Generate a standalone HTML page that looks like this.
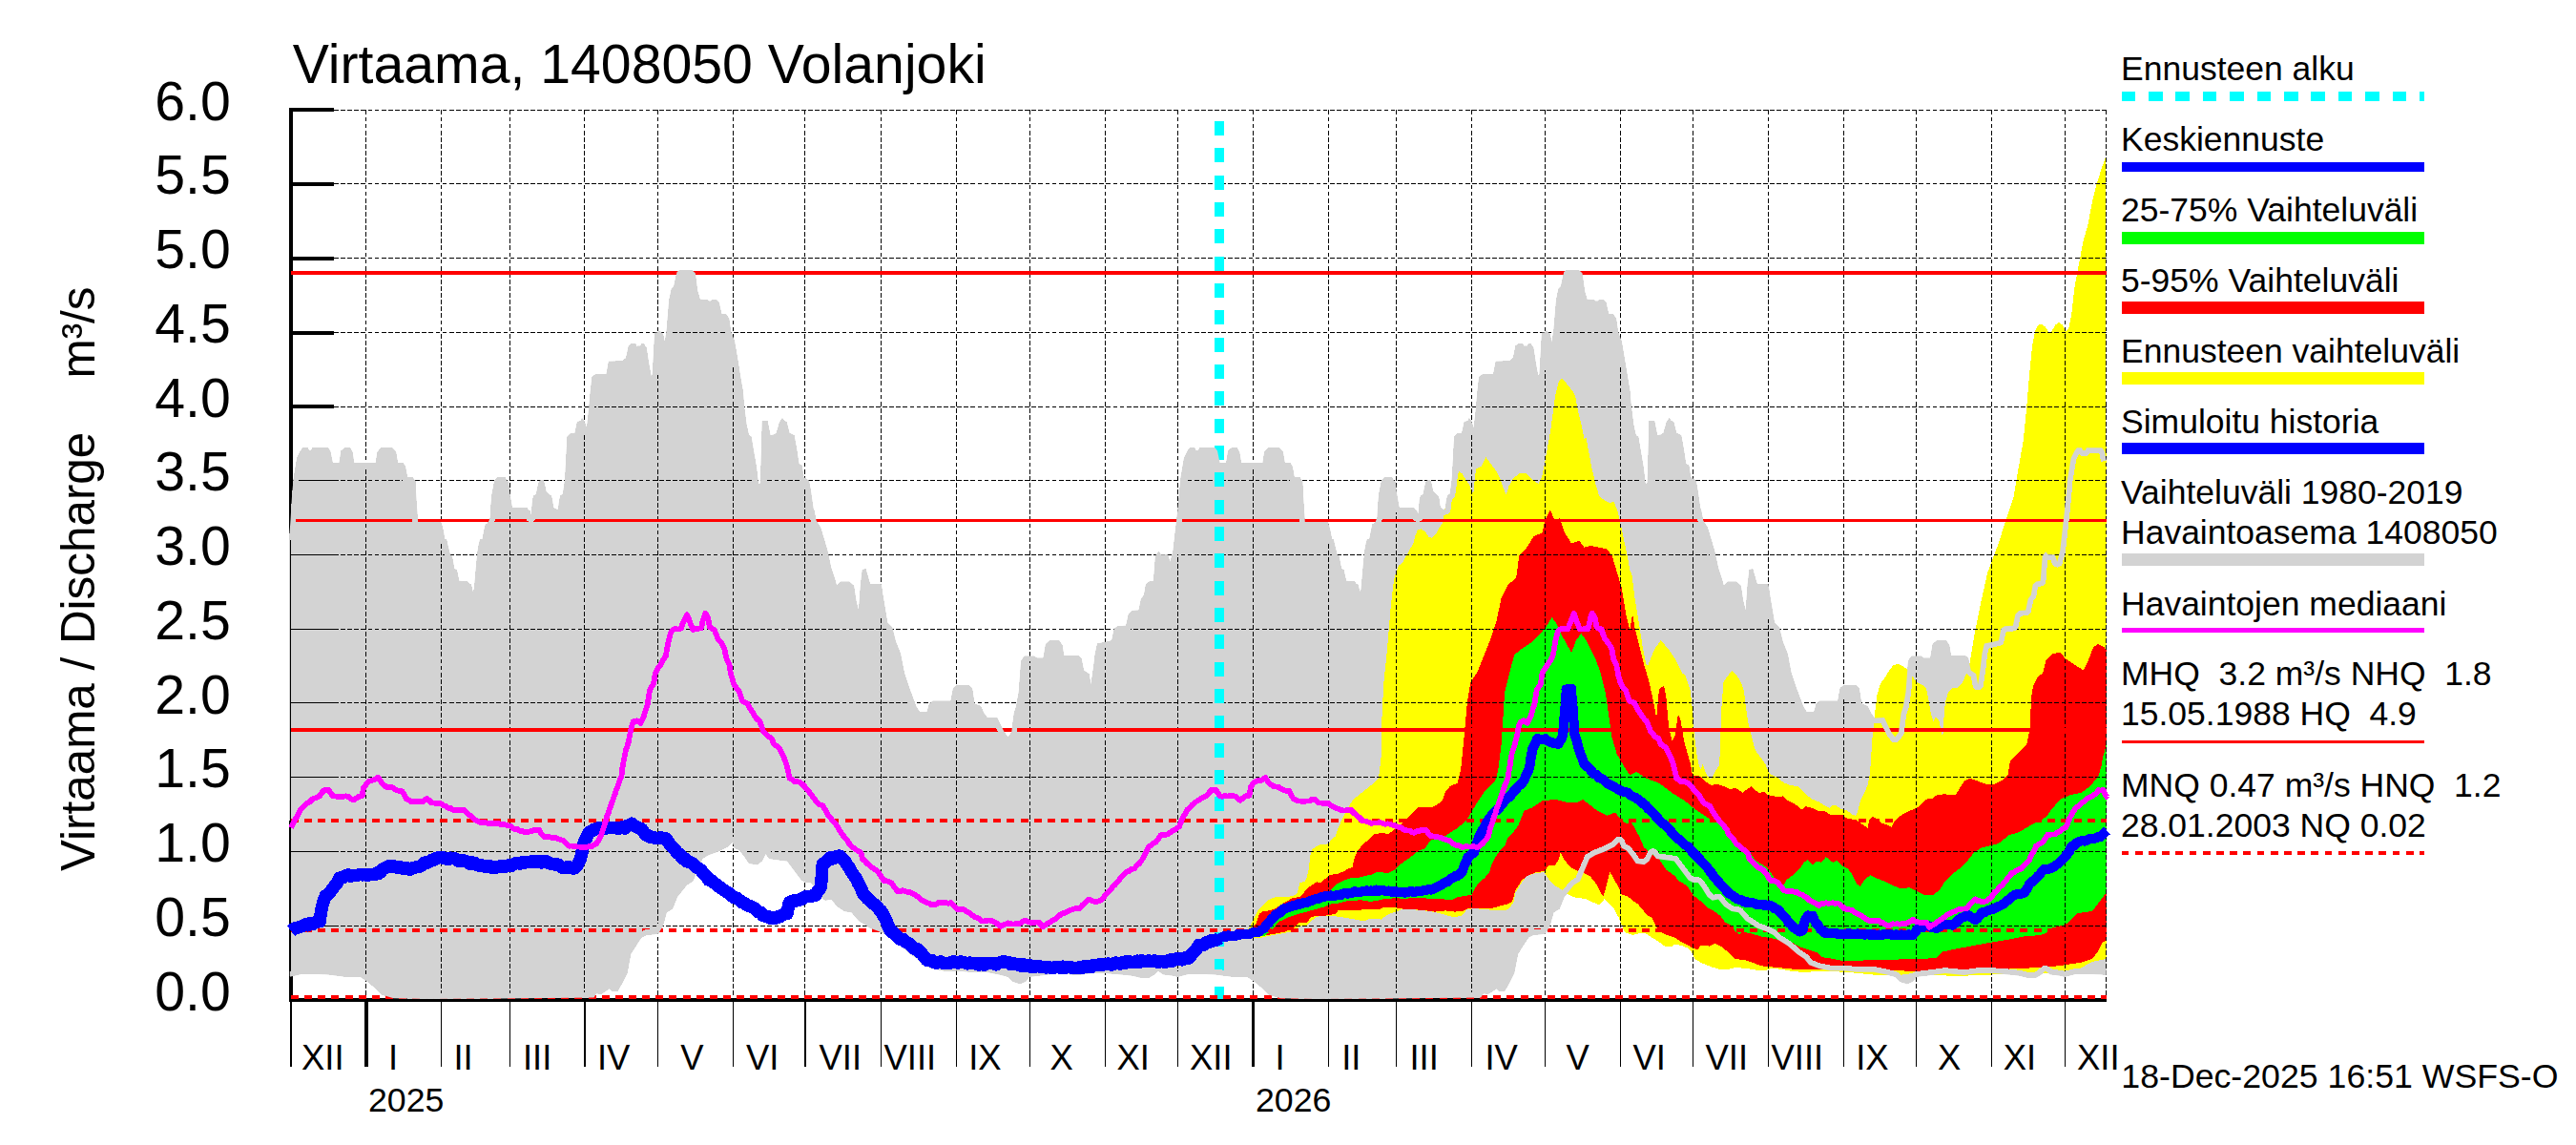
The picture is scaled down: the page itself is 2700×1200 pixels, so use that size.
<!DOCTYPE html><html><head><meta charset="utf-8"><title>Virtaama, 1408050 Volanjoki</title>
<style>html,body{margin:0;padding:0;background:#fff}svg{display:block}text{font-family:"Liberation Sans",sans-serif;fill:#000}</style></head><body>
<svg width="2700" height="1200" viewBox="0 0 2700 1200" shape-rendering="crispEdges">
<rect width="2700" height="1200" fill="#fff"/>
<defs><clipPath id="plot"><rect x="302" y="114.0" width="1906.5" height="935.5"/></clipPath>
<clipPath id="grayclip"><path d="M303.0 566.0 L304.5 545.0 L306.0 520.0 L307.5 502.5 L311.2 480.0 L315.0 472.5 L317.5 469.2 L322.5 469.2 L323.8 472.0 L326.2 472.0 L327.5 469.2 L343.8 469.2 L346.2 472.5 L348.8 485.0 L355.5 485.0 L357.5 472.5 L361.2 469.2 L367.0 469.2 L369.5 473.8 L371.2 485.0 L393.8 485.0 L395.5 473.8 L399.5 469.2 L411.2 469.2 L415.0 473.2 L417.0 485.0 L422.5 485.0 L425.0 488.8 L427.0 500.0 L432.5 500.0 L435.0 503.8 L435.6 503.8 L436.2 520.0 L437.5 538.8 L438.1 546.9 L462.5 547.5 L465.0 557.5 L466.2 565.0 L468.1 565.6 L470.0 573.8 L471.9 581.2 L473.8 583.1 L475.0 588.8 L476.2 596.2 L478.8 596.9 L481.2 608.8 L490.0 609.4 L491.9 611.9 L493.8 612.5 L495.6 620.0 L496.9 617.5 L498.1 603.8 L499.4 588.8 L500.6 577.5 L501.9 570.0 L503.1 565.6 L505.6 565.0 L507.5 555.0 L508.8 549.4 L510.6 548.8 L511.9 546.9 L513.8 542.5 L514.4 530.0 L515.6 517.5 L517.5 507.5 L518.8 503.1 L521.2 500.2 L529.4 500.2 L531.2 503.8 L533.1 505.0 L534.4 517.5 L536.9 531.9 L552.5 532.2 L553.8 534.4 L555.6 535.0 L556.2 541.2 L557.2 535.0 L558.1 523.8 L559.4 519.4 L561.9 518.1 L563.8 508.8 L565.0 504.4 L566.9 503.1 L569.4 503.1 L570.6 506.2 L572.5 515.0 L575.0 517.5 L577.5 519.4 L578.8 522.5 L580.0 531.9 L583.1 533.8 L585.0 533.8 L586.2 523.8 L587.5 519.4 L590.0 517.5 L591.9 503.8 L592.5 495.0 L594.5 457.5 L597.5 454.5 L602.5 453.8 L605.0 442.0 L608.8 441.2 L610.0 438.0 L612.5 441.2 L615.0 448.8 L617.0 430.0 L618.8 410.0 L620.5 395.0 L623.8 392.5 L635.5 392.0 L638.0 378.8 L652.5 378.2 L656.2 375.0 L658.8 362.5 L662.0 360.0 L666.2 360.0 L667.5 362.5 L671.2 362.5 L672.5 360.0 L675.0 360.0 L676.2 363.0 L677.5 363.8 L680.0 380.0 L682.5 393.8 L683.8 392.5 L686.2 348.8 L690.0 348.2 L691.2 346.2 L693.0 348.2 L695.0 350.0 L696.8 358.8 L698.8 345.0 L701.2 315.0 L703.8 302.5 L706.2 300.0 L709.5 285.0 L712.5 283.0 L725.0 283.0 L728.8 286.2 L731.2 305.0 L733.8 313.8 L741.2 314.2 L742.5 315.5 L745.0 315.5 L746.2 314.2 L751.2 314.2 L753.8 317.0 L756.2 328.8 L761.2 329.5 L764.2 333.8 L766.2 347.5 L770.0 357.5 L773.8 380.0 L776.2 395.0 L778.8 410.0 L780.0 425.0 L782.5 445.0 L785.0 456.2 L787.5 457.5 L790.0 472.5 L793.0 490.0 L795.0 507.5 L797.0 506.2 L798.0 470.0 L798.8 441.2 L804.5 441.2 L807.5 456.2 L811.2 455.5 L813.8 453.8 L817.0 442.5 L820.0 438.0 L822.0 441.2 L824.5 442.0 L827.5 453.8 L832.5 456.2 L835.0 470.0 L837.5 486.2 L840.5 487.5 L842.5 500.0 L848.0 503.8 L850.0 515.0 L852.5 532.5 L853.5 535.0 L855.5 545.5 L860.0 552.5 L863.8 565.0 L867.5 577.5 L871.2 595.0 L875.0 606.2 L877.0 613.8 L881.2 609.5 L890.0 609.5 L895.0 613.8 L897.5 630.0 L900.0 640.0 L902.0 612.5 L903.8 597.0 L907.5 596.2 L910.0 605.0 L912.0 612.0 L923.8 612.0 L925.2 622.5 L926.5 630.0 L930.2 652.5 L935.2 657.5 L939.0 672.5 L944.0 685.0 L947.8 705.0 L952.8 720.0 L956.5 730.0 L960.2 740.0 L964.0 746.2 L971.5 746.2 L974.0 737.5 L977.8 734.5 L996.5 734.5 L999.0 721.2 L1002.8 718.0 L1015.2 718.0 L1019.0 721.2 L1021.5 737.5 L1027.8 740.0 L1031.5 747.5 L1035.2 752.5 L1045.2 752.0 L1049.0 760.0 L1052.8 767.5 L1056.5 772.5 L1060.2 767.5 L1062.8 747.5 L1065.2 740.0 L1067.8 725.0 L1070.2 692.5 L1074.0 687.5 L1084.0 687.5 L1086.5 689.5 L1093.5 689.5 L1096.0 675.0 L1100.2 671.2 L1110.2 671.2 L1113.5 676.2 L1115.2 687.0 L1130.2 687.0 L1133.5 690.0 L1136.0 702.5 L1141.5 706.2 L1143.5 717.5 L1146.0 700.0 L1147.8 685.0 L1150.2 674.5 L1157.8 673.0 L1165.2 671.2 L1167.8 658.8 L1171.5 656.2 L1180.2 655.8 L1182.8 643.8 L1186.5 640.0 L1193.5 639.5 L1196.0 627.5 L1199.0 623.8 L1201.0 612.5 L1204.5 609.5 L1209.0 608.8 L1211.0 582.5 L1214.5 578.2 L1217.0 581.2 L1224.0 581.2 L1226.5 588.8 L1229.5 577.5 L1232.0 555.0 L1234.0 537.5 L1235.7 520.0 L1237.2 502.5 L1241.0 480.0 L1244.7 472.5 L1247.2 469.2 L1252.2 469.2 L1253.5 472.0 L1256.0 472.0 L1257.2 469.2 L1273.5 469.2 L1276.0 472.5 L1278.5 485.0 L1285.2 485.0 L1287.2 472.5 L1291.0 469.2 L1296.7 469.2 L1299.2 473.8 L1301.0 485.0 L1323.5 485.0 L1325.2 473.8 L1329.2 469.2 L1341.0 469.2 L1344.7 473.2 L1346.7 485.0 L1352.2 485.0 L1354.7 488.8 L1356.7 500.0 L1362.2 500.0 L1364.7 503.8 L1365.3 503.8 L1366.0 520.0 L1367.2 538.8 L1367.8 546.9 L1392.2 547.5 L1394.7 557.5 L1396.0 565.0 L1397.8 565.6 L1399.7 573.8 L1401.6 581.2 L1403.5 583.1 L1404.7 588.8 L1406.0 596.2 L1408.5 596.9 L1411.0 608.8 L1419.7 609.4 L1421.6 611.9 L1423.5 612.5 L1425.3 620.0 L1426.6 617.5 L1427.8 603.8 L1429.1 588.8 L1430.3 577.5 L1431.6 570.0 L1432.8 565.6 L1435.3 565.0 L1437.2 555.0 L1438.5 549.4 L1440.3 548.8 L1441.6 546.9 L1443.5 542.5 L1444.1 530.0 L1445.3 517.5 L1447.2 507.5 L1448.5 503.1 L1451.0 500.2 L1459.1 500.2 L1461.0 503.8 L1462.8 505.0 L1464.1 517.5 L1466.6 531.9 L1482.2 532.2 L1483.5 534.4 L1485.3 535.0 L1486.0 541.2 L1487.0 535.0 L1487.8 523.8 L1489.1 519.4 L1491.6 518.1 L1493.5 508.8 L1494.7 504.4 L1496.6 503.1 L1499.1 503.1 L1500.3 506.2 L1502.2 515.0 L1504.7 517.5 L1507.2 519.4 L1508.5 522.5 L1509.7 531.9 L1512.8 533.8 L1514.7 533.8 L1516.0 523.8 L1517.2 519.4 L1519.7 517.5 L1521.6 503.8 L1522.2 495.0 L1524.2 457.5 L1527.2 454.5 L1532.2 453.8 L1534.7 442.0 L1538.5 441.2 L1539.7 438.0 L1542.2 441.2 L1544.7 448.8 L1546.7 430.0 L1548.5 410.0 L1550.2 395.0 L1553.5 392.5 L1565.2 392.0 L1567.7 378.8 L1582.2 378.2 L1586.0 375.0 L1588.5 362.5 L1591.7 360.0 L1596.0 360.0 L1597.2 362.5 L1601.0 362.5 L1602.2 360.0 L1604.7 360.0 L1606.0 363.0 L1607.2 363.8 L1609.7 380.0 L1612.2 393.8 L1613.5 392.5 L1616.0 348.8 L1619.7 348.2 L1621.0 346.2 L1622.7 348.2 L1624.7 350.0 L1626.5 358.8 L1628.5 345.0 L1631.0 315.0 L1633.5 302.5 L1636.0 300.0 L1639.2 285.0 L1642.2 283.0 L1654.7 283.0 L1658.5 286.2 L1661.0 305.0 L1663.5 313.8 L1671.0 314.2 L1672.2 315.5 L1674.7 315.5 L1676.0 314.2 L1681.0 314.2 L1683.5 317.0 L1686.0 328.8 L1691.0 329.5 L1694.0 333.8 L1696.0 347.5 L1699.7 357.5 L1703.5 380.0 L1706.0 395.0 L1708.5 410.0 L1709.7 425.0 L1712.2 445.0 L1714.7 456.2 L1717.2 457.5 L1719.7 472.5 L1722.7 490.0 L1724.7 507.5 L1726.7 506.2 L1727.7 470.0 L1728.5 441.2 L1734.2 441.2 L1737.2 456.2 L1741.0 455.5 L1743.5 453.8 L1746.7 442.5 L1749.7 438.0 L1751.7 441.2 L1754.2 442.0 L1757.2 453.8 L1762.2 456.2 L1764.7 470.0 L1767.2 486.2 L1770.2 487.5 L1772.2 500.0 L1777.7 503.8 L1779.7 515.0 L1782.2 532.5 L1783.2 535.0 L1785.2 545.5 L1789.7 552.5 L1793.5 565.0 L1797.2 577.5 L1801.0 595.0 L1804.7 606.2 L1806.7 613.8 L1811.0 609.5 L1819.7 609.5 L1824.7 613.8 L1827.2 630.0 L1829.7 640.0 L1831.7 612.5 L1833.5 597.0 L1837.2 596.2 L1839.7 605.0 L1841.7 612.0 L1853.5 612.0 L1855.0 622.5 L1856.2 630.0 L1860.0 652.5 L1865.0 657.5 L1868.7 672.5 L1873.7 685.0 L1877.5 705.0 L1882.5 720.0 L1886.2 730.0 L1890.0 740.0 L1893.7 746.2 L1901.2 746.2 L1903.7 737.5 L1907.5 734.5 L1926.2 734.5 L1928.7 721.2 L1932.5 718.0 L1945.0 718.0 L1948.7 721.2 L1951.2 737.5 L1957.5 740.0 L1961.2 747.5 L1965.0 752.5 L1975.0 752.0 L1978.7 760.0 L1982.5 767.5 L1986.2 772.5 L1990.0 767.5 L1992.5 747.5 L1995.0 740.0 L1997.5 725.0 L2000.0 692.5 L2003.7 687.5 L2013.7 687.5 L2016.2 689.5 L2023.2 689.5 L2025.7 675.0 L2030.0 671.2 L2040.0 671.2 L2043.2 676.2 L2045.0 687.0 L2059.9 687.0 L2063.2 690.0 L2065.7 702.5 L2071.2 706.2 L2073.2 717.5 L2075.7 700.0 L2077.4 685.0 L2079.9 674.5 L2087.4 673.0 L2094.9 671.2 L2097.4 658.8 L2101.2 656.2 L2109.9 655.8 L2112.4 643.8 L2116.2 640.0 L2123.2 639.5 L2125.7 627.5 L2128.7 623.8 L2130.7 612.5 L2134.2 609.5 L2138.7 608.8 L2140.7 582.5 L2144.2 578.2 L2146.7 581.2 L2153.7 581.2 L2156.2 588.8 L2159.2 577.5 L2161.7 555.0 L2163.7 537.5 L2165.4 520.0 L2166.9 502.5 L2170.7 480.0 L2174.4 472.5 L2176.9 469.2 L2181.9 469.2 L2183.2 472.0 L2185.7 472.0 L2186.9 469.2 L2203.2 469.2 L2205.7 472.5 L2207.7 482.7 L2207.7 1022.0 L2201.9 1021.2 L2176.9 1020.5 L2164.2 1023.8 L2158.7 1022.5 L2148.7 1021.2 L2143.7 1017.5 L2139.9 1021.2 L2133.7 1025.0 L2126.2 1025.0 L2116.2 1022.5 L2103.7 1021.2 L2088.7 1020.0 L2073.7 1020.0 L2058.7 1022.0 L2038.7 1020.0 L2023.7 1022.0 L2008.7 1023.8 L2005.0 1028.8 L1998.7 1031.2 L1991.2 1028.8 L1986.2 1023.8 L1976.2 1021.2 L1963.7 1018.8 L1946.2 1018.8 L1933.7 1017.5 L1918.7 1017.5 L1906.2 1015.0 L1896.2 1011.2 L1891.2 1005.0 L1883.7 1000.0 L1873.7 991.2 L1863.7 985.0 L1858.7 980.0 L1851.2 976.2 L1841.2 972.5 L1833.7 967.5 L1829.7 965.0 L1822.2 956.2 L1814.7 955.0 L1807.2 950.0 L1801.0 942.5 L1794.7 943.8 L1789.7 940.0 L1783.5 930.0 L1779.7 925.0 L1774.7 925.0 L1769.7 922.5 L1762.2 912.5 L1754.7 902.5 L1736.0 900.0 L1732.2 895.0 L1728.5 902.5 L1723.5 906.2 L1714.7 905.0 L1709.7 897.5 L1704.7 891.2 L1699.7 888.8 L1697.2 882.5 L1692.2 887.5 L1682.2 892.5 L1672.2 896.2 L1666.0 900.0 L1659.7 915.0 L1656.0 923.8 L1649.7 927.5 L1639.7 940.0 L1634.7 952.5 L1628.5 956.2 L1624.7 970.0 L1619.7 978.8 L1607.2 980.0 L1602.2 982.5 L1597.2 990.0 L1591.0 1000.0 L1587.2 1020.0 L1582.2 1030.0 L1577.2 1038.8 L1571.0 1038.8 L1568.5 1036.2 L1564.7 1038.8 L1559.7 1042.0 L1554.7 1041.2 L1552.2 1045.5 L1454.7 1046.5 L1379.7 1047.0 L1342.2 1046.2 L1329.7 1042.5 L1322.2 1035.0 L1314.7 1028.8 L1307.2 1023.8 L1292.2 1023.8 L1272.2 1021.2 L1247.2 1020.5 L1234.5 1023.8 L1229.0 1022.5 L1219.0 1021.2 L1214.0 1017.5 L1210.2 1021.2 L1204.0 1025.0 L1196.5 1025.0 L1186.5 1022.5 L1174.0 1021.2 L1159.0 1020.0 L1144.0 1020.0 L1129.0 1022.0 L1109.0 1020.0 L1094.0 1022.0 L1079.0 1023.8 L1075.2 1028.8 L1069.0 1031.2 L1061.5 1028.8 L1056.5 1023.8 L1046.5 1021.2 L1034.0 1018.8 L1016.5 1018.8 L1004.0 1017.5 L989.0 1017.5 L976.5 1015.0 L966.5 1011.2 L961.5 1005.0 L954.0 1000.0 L944.0 991.2 L934.0 985.0 L929.0 980.0 L921.5 976.2 L911.5 972.5 L904.0 967.5 L900.0 965.0 L892.5 956.2 L885.0 955.0 L877.5 950.0 L871.2 942.5 L865.0 943.8 L860.0 940.0 L853.8 930.0 L850.0 925.0 L845.0 925.0 L840.0 922.5 L832.5 912.5 L825.0 902.5 L806.2 900.0 L802.5 895.0 L798.8 902.5 L793.8 906.2 L785.0 905.0 L780.0 897.5 L775.0 891.2 L770.0 888.8 L767.5 882.5 L762.5 887.5 L752.5 892.5 L742.5 896.2 L736.2 900.0 L730.0 915.0 L726.2 923.8 L720.0 927.5 L710.0 940.0 L705.0 952.5 L698.8 956.2 L695.0 970.0 L690.0 978.8 L677.5 980.0 L672.5 982.5 L667.5 990.0 L661.2 1000.0 L657.5 1020.0 L652.5 1030.0 L647.5 1038.8 L641.2 1038.8 L638.8 1036.2 L635.0 1038.8 L630.0 1042.0 L625.0 1041.2 L622.5 1045.5 L525.0 1046.5 L450.0 1047.0 L412.5 1046.2 L400.0 1042.5 L392.5 1035.0 L385.0 1028.8 L377.5 1023.8 L362.5 1023.8 L342.5 1021.2 L317.5 1020.5 L303.8 1023.8Z"/></clipPath></defs>
<g stroke="#000" stroke-width="3.9" fill="none" stroke-linecap="butt">
<path d="M305 113.45V1049.95"/>
<path d="M303.05 1048H2208.2"/>
<path d="M305 970.5H350"/>
<path d="M305 892.7H350"/>
<path d="M305 815.0H350"/>
<path d="M305 737.3H350"/>
<path d="M305 659.5H350"/>
<path d="M305 581.8H350"/>
<path d="M305 504.1H350"/>
<path d="M305 426.3H350"/>
<path d="M305 348.6H350"/>
<path d="M305 270.9H350"/>
<path d="M305 193.1H350"/>
<path d="M305 115.4H350"/>
</g>
<g stroke="#000" fill="none">
<path d="M305.0 1048V1117.5" stroke-width="1.3"/>
<path d="M384.0 1048V1117.5" stroke-width="3.6"/>
<path d="M462.5 1048V1117.5" stroke-width="1.3"/>
<path d="M534.5 1048V1117.5" stroke-width="1.3"/>
<path d="M613.0 1048V1117.5" stroke-width="1.3"/>
<path d="M689.5 1048V1117.5" stroke-width="1.3"/>
<path d="M768.5 1048V1117.5" stroke-width="1.3"/>
<path d="M844.0 1048V1117.5" stroke-width="1.3"/>
<path d="M923.5 1048V1117.5" stroke-width="1.3"/>
<path d="M1002.5 1048V1117.5" stroke-width="1.3"/>
<path d="M1079.5 1048V1117.5" stroke-width="1.3"/>
<path d="M1158.5 1048V1117.5" stroke-width="1.3"/>
<path d="M1234.5 1048V1117.5" stroke-width="1.3"/>
<path d="M1313.5 1048V1117.5" stroke-width="3.6"/>
<path d="M1392.5 1048V1117.5" stroke-width="1.3"/>
<path d="M1463.5 1048V1117.5" stroke-width="1.3"/>
<path d="M1542.5 1048V1117.5" stroke-width="1.3"/>
<path d="M1619.5 1048V1117.5" stroke-width="1.3"/>
<path d="M1698.5 1048V1117.5" stroke-width="1.3"/>
<path d="M1774.5 1048V1117.5" stroke-width="1.3"/>
<path d="M1853.5 1048V1117.5" stroke-width="1.3"/>
<path d="M1932.5 1048V1117.5" stroke-width="1.3"/>
<path d="M2008.5 1048V1117.5" stroke-width="1.3"/>
<path d="M2087.5 1048V1117.5" stroke-width="1.3"/>
<path d="M2164.5 1048V1117.5" stroke-width="1.3"/>
</g>
<g clip-path="url(#plot)">
<path d="M303.0 566.0 L304.5 545.0 L306.0 520.0 L307.5 502.5 L311.2 480.0 L315.0 472.5 L317.5 469.2 L322.5 469.2 L323.8 472.0 L326.2 472.0 L327.5 469.2 L343.8 469.2 L346.2 472.5 L348.8 485.0 L355.5 485.0 L357.5 472.5 L361.2 469.2 L367.0 469.2 L369.5 473.8 L371.2 485.0 L393.8 485.0 L395.5 473.8 L399.5 469.2 L411.2 469.2 L415.0 473.2 L417.0 485.0 L422.5 485.0 L425.0 488.8 L427.0 500.0 L432.5 500.0 L435.0 503.8 L435.6 503.8 L436.2 520.0 L437.5 538.8 L438.1 546.9 L462.5 547.5 L465.0 557.5 L466.2 565.0 L468.1 565.6 L470.0 573.8 L471.9 581.2 L473.8 583.1 L475.0 588.8 L476.2 596.2 L478.8 596.9 L481.2 608.8 L490.0 609.4 L491.9 611.9 L493.8 612.5 L495.6 620.0 L496.9 617.5 L498.1 603.8 L499.4 588.8 L500.6 577.5 L501.9 570.0 L503.1 565.6 L505.6 565.0 L507.5 555.0 L508.8 549.4 L510.6 548.8 L511.9 546.9 L513.8 542.5 L514.4 530.0 L515.6 517.5 L517.5 507.5 L518.8 503.1 L521.2 500.2 L529.4 500.2 L531.2 503.8 L533.1 505.0 L534.4 517.5 L536.9 531.9 L552.5 532.2 L553.8 534.4 L555.6 535.0 L556.2 541.2 L557.2 535.0 L558.1 523.8 L559.4 519.4 L561.9 518.1 L563.8 508.8 L565.0 504.4 L566.9 503.1 L569.4 503.1 L570.6 506.2 L572.5 515.0 L575.0 517.5 L577.5 519.4 L578.8 522.5 L580.0 531.9 L583.1 533.8 L585.0 533.8 L586.2 523.8 L587.5 519.4 L590.0 517.5 L591.9 503.8 L592.5 495.0 L594.5 457.5 L597.5 454.5 L602.5 453.8 L605.0 442.0 L608.8 441.2 L610.0 438.0 L612.5 441.2 L615.0 448.8 L617.0 430.0 L618.8 410.0 L620.5 395.0 L623.8 392.5 L635.5 392.0 L638.0 378.8 L652.5 378.2 L656.2 375.0 L658.8 362.5 L662.0 360.0 L666.2 360.0 L667.5 362.5 L671.2 362.5 L672.5 360.0 L675.0 360.0 L676.2 363.0 L677.5 363.8 L680.0 380.0 L682.5 393.8 L683.8 392.5 L686.2 348.8 L690.0 348.2 L691.2 346.2 L693.0 348.2 L695.0 350.0 L696.8 358.8 L698.8 345.0 L701.2 315.0 L703.8 302.5 L706.2 300.0 L709.5 285.0 L712.5 283.0 L725.0 283.0 L728.8 286.2 L731.2 305.0 L733.8 313.8 L741.2 314.2 L742.5 315.5 L745.0 315.5 L746.2 314.2 L751.2 314.2 L753.8 317.0 L756.2 328.8 L761.2 329.5 L764.2 333.8 L766.2 347.5 L770.0 357.5 L773.8 380.0 L776.2 395.0 L778.8 410.0 L780.0 425.0 L782.5 445.0 L785.0 456.2 L787.5 457.5 L790.0 472.5 L793.0 490.0 L795.0 507.5 L797.0 506.2 L798.0 470.0 L798.8 441.2 L804.5 441.2 L807.5 456.2 L811.2 455.5 L813.8 453.8 L817.0 442.5 L820.0 438.0 L822.0 441.2 L824.5 442.0 L827.5 453.8 L832.5 456.2 L835.0 470.0 L837.5 486.2 L840.5 487.5 L842.5 500.0 L848.0 503.8 L850.0 515.0 L852.5 532.5 L853.5 535.0 L855.5 545.5 L860.0 552.5 L863.8 565.0 L867.5 577.5 L871.2 595.0 L875.0 606.2 L877.0 613.8 L881.2 609.5 L890.0 609.5 L895.0 613.8 L897.5 630.0 L900.0 640.0 L902.0 612.5 L903.8 597.0 L907.5 596.2 L910.0 605.0 L912.0 612.0 L923.8 612.0 L925.2 622.5 L926.5 630.0 L930.2 652.5 L935.2 657.5 L939.0 672.5 L944.0 685.0 L947.8 705.0 L952.8 720.0 L956.5 730.0 L960.2 740.0 L964.0 746.2 L971.5 746.2 L974.0 737.5 L977.8 734.5 L996.5 734.5 L999.0 721.2 L1002.8 718.0 L1015.2 718.0 L1019.0 721.2 L1021.5 737.5 L1027.8 740.0 L1031.5 747.5 L1035.2 752.5 L1045.2 752.0 L1049.0 760.0 L1052.8 767.5 L1056.5 772.5 L1060.2 767.5 L1062.8 747.5 L1065.2 740.0 L1067.8 725.0 L1070.2 692.5 L1074.0 687.5 L1084.0 687.5 L1086.5 689.5 L1093.5 689.5 L1096.0 675.0 L1100.2 671.2 L1110.2 671.2 L1113.5 676.2 L1115.2 687.0 L1130.2 687.0 L1133.5 690.0 L1136.0 702.5 L1141.5 706.2 L1143.5 717.5 L1146.0 700.0 L1147.8 685.0 L1150.2 674.5 L1157.8 673.0 L1165.2 671.2 L1167.8 658.8 L1171.5 656.2 L1180.2 655.8 L1182.8 643.8 L1186.5 640.0 L1193.5 639.5 L1196.0 627.5 L1199.0 623.8 L1201.0 612.5 L1204.5 609.5 L1209.0 608.8 L1211.0 582.5 L1214.5 578.2 L1217.0 581.2 L1224.0 581.2 L1226.5 588.8 L1229.5 577.5 L1232.0 555.0 L1234.0 537.5 L1235.7 520.0 L1237.2 502.5 L1241.0 480.0 L1244.7 472.5 L1247.2 469.2 L1252.2 469.2 L1253.5 472.0 L1256.0 472.0 L1257.2 469.2 L1273.5 469.2 L1276.0 472.5 L1278.5 485.0 L1285.2 485.0 L1287.2 472.5 L1291.0 469.2 L1296.7 469.2 L1299.2 473.8 L1301.0 485.0 L1323.5 485.0 L1325.2 473.8 L1329.2 469.2 L1341.0 469.2 L1344.7 473.2 L1346.7 485.0 L1352.2 485.0 L1354.7 488.8 L1356.7 500.0 L1362.2 500.0 L1364.7 503.8 L1365.3 503.8 L1366.0 520.0 L1367.2 538.8 L1367.8 546.9 L1392.2 547.5 L1394.7 557.5 L1396.0 565.0 L1397.8 565.6 L1399.7 573.8 L1401.6 581.2 L1403.5 583.1 L1404.7 588.8 L1406.0 596.2 L1408.5 596.9 L1411.0 608.8 L1419.7 609.4 L1421.6 611.9 L1423.5 612.5 L1425.3 620.0 L1426.6 617.5 L1427.8 603.8 L1429.1 588.8 L1430.3 577.5 L1431.6 570.0 L1432.8 565.6 L1435.3 565.0 L1437.2 555.0 L1438.5 549.4 L1440.3 548.8 L1441.6 546.9 L1443.5 542.5 L1444.1 530.0 L1445.3 517.5 L1447.2 507.5 L1448.5 503.1 L1451.0 500.2 L1459.1 500.2 L1461.0 503.8 L1462.8 505.0 L1464.1 517.5 L1466.6 531.9 L1482.2 532.2 L1483.5 534.4 L1485.3 535.0 L1486.0 541.2 L1487.0 535.0 L1487.8 523.8 L1489.1 519.4 L1491.6 518.1 L1493.5 508.8 L1494.7 504.4 L1496.6 503.1 L1499.1 503.1 L1500.3 506.2 L1502.2 515.0 L1504.7 517.5 L1507.2 519.4 L1508.5 522.5 L1509.7 531.9 L1512.8 533.8 L1514.7 533.8 L1516.0 523.8 L1517.2 519.4 L1519.7 517.5 L1521.6 503.8 L1522.2 495.0 L1524.2 457.5 L1527.2 454.5 L1532.2 453.8 L1534.7 442.0 L1538.5 441.2 L1539.7 438.0 L1542.2 441.2 L1544.7 448.8 L1546.7 430.0 L1548.5 410.0 L1550.2 395.0 L1553.5 392.5 L1565.2 392.0 L1567.7 378.8 L1582.2 378.2 L1586.0 375.0 L1588.5 362.5 L1591.7 360.0 L1596.0 360.0 L1597.2 362.5 L1601.0 362.5 L1602.2 360.0 L1604.7 360.0 L1606.0 363.0 L1607.2 363.8 L1609.7 380.0 L1612.2 393.8 L1613.5 392.5 L1616.0 348.8 L1619.7 348.2 L1621.0 346.2 L1622.7 348.2 L1624.7 350.0 L1626.5 358.8 L1628.5 345.0 L1631.0 315.0 L1633.5 302.5 L1636.0 300.0 L1639.2 285.0 L1642.2 283.0 L1654.7 283.0 L1658.5 286.2 L1661.0 305.0 L1663.5 313.8 L1671.0 314.2 L1672.2 315.5 L1674.7 315.5 L1676.0 314.2 L1681.0 314.2 L1683.5 317.0 L1686.0 328.8 L1691.0 329.5 L1694.0 333.8 L1696.0 347.5 L1699.7 357.5 L1703.5 380.0 L1706.0 395.0 L1708.5 410.0 L1709.7 425.0 L1712.2 445.0 L1714.7 456.2 L1717.2 457.5 L1719.7 472.5 L1722.7 490.0 L1724.7 507.5 L1726.7 506.2 L1727.7 470.0 L1728.5 441.2 L1734.2 441.2 L1737.2 456.2 L1741.0 455.5 L1743.5 453.8 L1746.7 442.5 L1749.7 438.0 L1751.7 441.2 L1754.2 442.0 L1757.2 453.8 L1762.2 456.2 L1764.7 470.0 L1767.2 486.2 L1770.2 487.5 L1772.2 500.0 L1777.7 503.8 L1779.7 515.0 L1782.2 532.5 L1783.2 535.0 L1785.2 545.5 L1789.7 552.5 L1793.5 565.0 L1797.2 577.5 L1801.0 595.0 L1804.7 606.2 L1806.7 613.8 L1811.0 609.5 L1819.7 609.5 L1824.7 613.8 L1827.2 630.0 L1829.7 640.0 L1831.7 612.5 L1833.5 597.0 L1837.2 596.2 L1839.7 605.0 L1841.7 612.0 L1853.5 612.0 L1855.0 622.5 L1856.2 630.0 L1860.0 652.5 L1865.0 657.5 L1868.7 672.5 L1873.7 685.0 L1877.5 705.0 L1882.5 720.0 L1886.2 730.0 L1890.0 740.0 L1893.7 746.2 L1901.2 746.2 L1903.7 737.5 L1907.5 734.5 L1926.2 734.5 L1928.7 721.2 L1932.5 718.0 L1945.0 718.0 L1948.7 721.2 L1951.2 737.5 L1957.5 740.0 L1961.2 747.5 L1965.0 752.5 L1975.0 752.0 L1978.7 760.0 L1982.5 767.5 L1986.2 772.5 L1990.0 767.5 L1992.5 747.5 L1995.0 740.0 L1997.5 725.0 L2000.0 692.5 L2003.7 687.5 L2013.7 687.5 L2016.2 689.5 L2023.2 689.5 L2025.7 675.0 L2030.0 671.2 L2040.0 671.2 L2043.2 676.2 L2045.0 687.0 L2059.9 687.0 L2063.2 690.0 L2065.7 702.5 L2071.2 706.2 L2073.2 717.5 L2075.7 700.0 L2077.4 685.0 L2079.9 674.5 L2087.4 673.0 L2094.9 671.2 L2097.4 658.8 L2101.2 656.2 L2109.9 655.8 L2112.4 643.8 L2116.2 640.0 L2123.2 639.5 L2125.7 627.5 L2128.7 623.8 L2130.7 612.5 L2134.2 609.5 L2138.7 608.8 L2140.7 582.5 L2144.2 578.2 L2146.7 581.2 L2153.7 581.2 L2156.2 588.8 L2159.2 577.5 L2161.7 555.0 L2163.7 537.5 L2165.4 520.0 L2166.9 502.5 L2170.7 480.0 L2174.4 472.5 L2176.9 469.2 L2181.9 469.2 L2183.2 472.0 L2185.7 472.0 L2186.9 469.2 L2203.2 469.2 L2205.7 472.5 L2207.7 482.7 L2207.7 1022.0 L2201.9 1021.2 L2176.9 1020.5 L2164.2 1023.8 L2158.7 1022.5 L2148.7 1021.2 L2143.7 1017.5 L2139.9 1021.2 L2133.7 1025.0 L2126.2 1025.0 L2116.2 1022.5 L2103.7 1021.2 L2088.7 1020.0 L2073.7 1020.0 L2058.7 1022.0 L2038.7 1020.0 L2023.7 1022.0 L2008.7 1023.8 L2005.0 1028.8 L1998.7 1031.2 L1991.2 1028.8 L1986.2 1023.8 L1976.2 1021.2 L1963.7 1018.8 L1946.2 1018.8 L1933.7 1017.5 L1918.7 1017.5 L1906.2 1015.0 L1896.2 1011.2 L1891.2 1005.0 L1883.7 1000.0 L1873.7 991.2 L1863.7 985.0 L1858.7 980.0 L1851.2 976.2 L1841.2 972.5 L1833.7 967.5 L1829.7 965.0 L1822.2 956.2 L1814.7 955.0 L1807.2 950.0 L1801.0 942.5 L1794.7 943.8 L1789.7 940.0 L1783.5 930.0 L1779.7 925.0 L1774.7 925.0 L1769.7 922.5 L1762.2 912.5 L1754.7 902.5 L1736.0 900.0 L1732.2 895.0 L1728.5 902.5 L1723.5 906.2 L1714.7 905.0 L1709.7 897.5 L1704.7 891.2 L1699.7 888.8 L1697.2 882.5 L1692.2 887.5 L1682.2 892.5 L1672.2 896.2 L1666.0 900.0 L1659.7 915.0 L1656.0 923.8 L1649.7 927.5 L1639.7 940.0 L1634.7 952.5 L1628.5 956.2 L1624.7 970.0 L1619.7 978.8 L1607.2 980.0 L1602.2 982.5 L1597.2 990.0 L1591.0 1000.0 L1587.2 1020.0 L1582.2 1030.0 L1577.2 1038.8 L1571.0 1038.8 L1568.5 1036.2 L1564.7 1038.8 L1559.7 1042.0 L1554.7 1041.2 L1552.2 1045.5 L1454.7 1046.5 L1379.7 1047.0 L1342.2 1046.2 L1329.7 1042.5 L1322.2 1035.0 L1314.7 1028.8 L1307.2 1023.8 L1292.2 1023.8 L1272.2 1021.2 L1247.2 1020.5 L1234.5 1023.8 L1229.0 1022.5 L1219.0 1021.2 L1214.0 1017.5 L1210.2 1021.2 L1204.0 1025.0 L1196.5 1025.0 L1186.5 1022.5 L1174.0 1021.2 L1159.0 1020.0 L1144.0 1020.0 L1129.0 1022.0 L1109.0 1020.0 L1094.0 1022.0 L1079.0 1023.8 L1075.2 1028.8 L1069.0 1031.2 L1061.5 1028.8 L1056.5 1023.8 L1046.5 1021.2 L1034.0 1018.8 L1016.5 1018.8 L1004.0 1017.5 L989.0 1017.5 L976.5 1015.0 L966.5 1011.2 L961.5 1005.0 L954.0 1000.0 L944.0 991.2 L934.0 985.0 L929.0 980.0 L921.5 976.2 L911.5 972.5 L904.0 967.5 L900.0 965.0 L892.5 956.2 L885.0 955.0 L877.5 950.0 L871.2 942.5 L865.0 943.8 L860.0 940.0 L853.8 930.0 L850.0 925.0 L845.0 925.0 L840.0 922.5 L832.5 912.5 L825.0 902.5 L806.2 900.0 L802.5 895.0 L798.8 902.5 L793.8 906.2 L785.0 905.0 L780.0 897.5 L775.0 891.2 L770.0 888.8 L767.5 882.5 L762.5 887.5 L752.5 892.5 L742.5 896.2 L736.2 900.0 L730.0 915.0 L726.2 923.8 L720.0 927.5 L710.0 940.0 L705.0 952.5 L698.8 956.2 L695.0 970.0 L690.0 978.8 L677.5 980.0 L672.5 982.5 L667.5 990.0 L661.2 1000.0 L657.5 1020.0 L652.5 1030.0 L647.5 1038.8 L641.2 1038.8 L638.8 1036.2 L635.0 1038.8 L630.0 1042.0 L625.0 1041.2 L622.5 1045.5 L525.0 1046.5 L450.0 1047.0 L412.5 1046.2 L400.0 1042.5 L392.5 1035.0 L385.0 1028.8 L377.5 1023.8 L362.5 1023.8 L342.5 1021.2 L317.5 1020.5 L303.8 1023.8Z" fill="#d3d3d3"/>
<path d="M1278.0 983.0 L1308.8 973.1 L1312.5 966.2 L1316.2 958.8 L1318.8 953.8 L1322.5 950.0 L1326.2 946.2 L1330.0 943.1 L1335.0 940.6 L1340.0 940.0 L1350.0 940.0 L1357.5 938.1 L1360.0 935.0 L1362.5 925.0 L1367.5 923.8 L1370.0 918.8 L1371.9 910.0 L1373.1 897.5 L1375.6 890.0 L1380.0 886.9 L1383.8 885.0 L1392.5 884.4 L1395.0 880.0 L1400.0 876.2 L1402.5 867.5 L1405.0 862.5 L1406.2 860.0 L1412.5 847.5 L1417.5 838.8 L1425.0 832.5 L1437.5 822.5 L1445.0 815.0 L1447.5 795.0 L1447.8 765.0 L1450.2 717.5 L1454.0 680.0 L1457.8 635.0 L1461.0 607.5 L1462.5 602.5 L1466.2 592.5 L1470.0 590.0 L1473.8 582.5 L1477.5 576.2 L1481.2 570.0 L1483.8 560.0 L1486.2 555.0 L1490.0 554.2 L1493.8 557.5 L1497.5 562.5 L1501.2 563.8 L1505.0 560.0 L1508.8 552.5 L1512.5 547.5 L1515.0 530.0 L1521.2 525.0 L1523.8 520.0 L1526.2 510.0 L1528.8 493.8 L1532.5 496.2 L1536.2 502.5 L1540.0 507.5 L1542.5 517.5 L1544.5 515.0 L1547.0 491.2 L1552.5 488.8 L1557.5 479.2 L1562.5 486.2 L1567.5 492.5 L1572.5 502.5 L1576.2 512.5 L1578.8 518.8 L1581.2 510.0 L1586.2 501.2 L1592.5 496.2 L1600.0 496.2 L1606.2 502.5 L1612.5 507.0 L1616.2 500.0 L1620.0 480.0 L1625.0 452.5 L1630.0 415.0 L1633.8 400.0 L1637.0 396.2 L1642.5 402.5 L1647.5 408.8 L1651.2 415.0 L1653.8 430.0 L1657.5 445.0 L1660.5 460.0 L1662.5 458.8 L1665.0 472.5 L1668.8 492.5 L1672.5 507.5 L1676.2 520.0 L1682.5 525.0 L1687.5 527.5 L1691.2 525.5 L1695.0 533.8 L1698.8 550.0 L1702.5 567.5 L1706.2 585.0 L1708.8 600.0 L1710.0 599.2 L1713.4 626.5 L1716.8 647.0 L1718.5 657.2 L1721.9 679.3 L1725.3 695.3 L1727.0 698.1 L1733.8 681.0 L1740.7 670.8 L1749.2 681.0 L1756.0 691.2 L1762.8 704.9 L1766.6 708.3 L1771.6 723.2 L1774.1 744.8 L1775.8 769.7 L1778.3 789.6 L1780.8 802.9 L1782.4 806.2 L1784.6 801.2 L1786.6 806.2 L1789.0 812.8 L1793.2 816.1 L1795.7 812.8 L1799.0 806.2 L1801.5 802.9 L1802.8 789.6 L1803.5 764.7 L1804.5 739.8 L1806.5 714.9 L1809.8 709.9 L1815.6 702.5 L1820.6 708.3 L1824.7 714.9 L1828.0 724.9 L1829.7 739.8 L1832.2 756.4 L1835.5 769.7 L1838.8 783.0 L1841.3 788.8 L1846.3 794.6 L1850.5 801.2 L1853.0 807.8 L1856.3 812.0 L1862.9 814.5 L1869.5 820.3 L1876.2 822.8 L1884.5 824.4 L1889.5 829.4 L1894.4 833.6 L1899.4 837.7 L1906.1 840.2 L1912.7 844.4 L1917.7 846.9 L1921.0 844.0 L1924.3 844.0 L1929.3 847.7 L1935.9 849.3 L1940.9 853.5 L1945.1 855.1 L1947.5 849.3 L1950.0 839.4 L1954.2 831.1 L1957.5 822.8 L1960.0 811.2 L1961.2 792.9 L1962.5 773.0 L1965.0 748.1 L1967.5 728.2 L1970.8 716.6 L1975.8 709.9 L1980.8 701.6 L1984.9 696.6 L1990.7 696.3 L1995.7 699.1 L1999.0 701.6 L2009.0 714.9 L2015.6 718.2 L2018.9 721.5 L2021.4 733.1 L2023.9 748.1 L2026.4 756.4 L2028.9 751.4 L2032.2 754.7 L2034.7 766.4 L2036.3 773.0 L2037.2 756.4 L2038.8 736.5 L2042.2 724.9 L2047.1 720.7 L2052.1 720.7 L2057.1 714.9 L2060.4 707.4 L2064.4 695.5 L2069.6 664.8 L2076.4 630.8 L2083.2 600.1 L2093.4 572.9 L2103.6 542.2 L2110.4 521.8 L2115.5 491.1 L2120.0 466.2 L2120.9 460.1 L2124.0 429.5 L2127.0 392.8 L2130.1 362.3 L2133.1 347.0 L2136.2 340.9 L2139.8 339.7 L2143.8 342.4 L2146.9 347.6 L2149.9 348.5 L2153.9 340.9 L2158.2 337.8 L2162.2 340.9 L2165.2 347.0 L2168.3 343.9 L2171.3 328.7 L2174.4 301.1 L2179.0 276.7 L2183.6 252.2 L2188.1 237.0 L2192.7 212.5 L2197.3 194.2 L2201.9 178.9 L2207.4 163.6 L2207.7 1005.0 L2193.0 1008.0 L2180.0 1015.0 L2150.0 1020.0 L2100.0 1021.0 L2050.0 1023.0 L2030.0 1022.0 L2009.0 1019.0 L1999.7 1020.7 L1988.0 1022.4 L1979.7 1021.5 L1963.0 1021.5 L1954.7 1020.7 L1938.0 1019.0 L1921.4 1018.2 L1904.8 1017.9 L1893.1 1019.0 L1879.8 1018.2 L1866.4 1015.7 L1856.5 1014.9 L1849.8 1017.4 L1839.8 1016.5 L1829.8 1014.9 L1818.2 1014.0 L1809.8 1016.5 L1801.5 1015.7 L1793.2 1013.2 L1783.2 1009.0 L1776.5 1004.9 L1773.2 998.2 L1768.2 993.2 L1761.5 990.7 L1754.9 989.9 L1751.5 992.4 L1744.9 991.6 L1738.2 986.6 L1729.9 981.6 L1723.2 977.4 L1716.6 978.6 L1711.6 979.9 L1703.2 977.4 L1699.9 969.9 L1696.6 961.6 L1691.6 952.4 L1686.6 946.6 L1681.6 942.4 L1675.8 948.3 L1669.9 945.8 L1661.6 941.9 L1651.6 940.8 L1643.3 937.4 L1640.0 934.1 L1635.8 931.9 L1630.0 928.3 L1623.3 921.6 L1618.3 914.1 L1610.0 915.0 L1600.0 918.3 L1595.0 925.0 L1588.3 935.8 L1586.2 946.2 L1581.2 952.5 L1576.2 954.4 L1570.0 954.4 L1557.5 953.1 L1545.0 952.1 L1537.5 953.1 L1532.5 959.4 L1523.8 961.5 L1515.0 958.8 L1503.8 955.9 L1495.0 954.6 L1482.5 953.4 L1470.0 952.8 L1465.0 955.0 L1461.2 956.2 L1453.8 958.8 L1447.5 963.5 L1436.2 962.5 L1430.0 965.6 L1425.0 964.4 L1417.5 963.1 L1410.0 961.9 L1402.5 960.6 L1395.0 960.0 L1380.0 960.6 L1376.2 963.8 L1370.0 970.0 L1365.0 970.0 L1360.0 972.5 L1356.2 976.2 L1345.0 978.1 L1330.0 980.9 L1320.0 983.1 L1278.0 983.0Z" fill="#ffff00"/>
<path d="M1278.0 983.0 L1310.0 974.4 L1316.2 968.8 L1320.0 957.5 L1323.8 955.0 L1330.0 954.4 L1336.2 952.5 L1343.8 947.5 L1350.0 943.8 L1355.0 941.2 L1362.5 940.0 L1366.2 936.2 L1370.0 931.2 L1375.0 927.5 L1380.0 924.4 L1385.0 924.8 L1388.8 921.2 L1393.8 916.9 L1401.2 916.0 L1407.5 913.8 L1412.5 910.6 L1417.5 908.8 L1419.4 900.0 L1421.9 893.8 L1426.2 887.5 L1431.2 882.5 L1436.2 878.8 L1441.2 873.8 L1450.0 873.1 L1455.0 874.4 L1460.0 870.6 L1465.0 866.2 L1470.0 862.5 L1472.5 860.0 L1480.0 852.5 L1487.5 845.5 L1502.5 845.5 L1511.2 840.0 L1515.0 830.0 L1520.0 823.8 L1527.7 820.7 L1531.1 807.1 L1534.5 773.0 L1537.9 735.5 L1541.3 715.1 L1548.2 704.9 L1555.0 687.8 L1561.8 670.8 L1568.6 650.4 L1573.7 626.5 L1580.5 612.9 L1589.0 606.1 L1592.4 582.2 L1599.2 575.4 L1607.8 561.8 L1616.3 558.4 L1619.7 544.7 L1624.8 534.5 L1629.9 546.4 L1635.0 543.0 L1640.1 558.4 L1647.0 569.3 L1655.5 566.9 L1660.6 573.7 L1667.4 572.0 L1675.9 573.7 L1684.4 575.4 L1689.5 582.2 L1694.7 599.2 L1699.8 616.3 L1704.9 647.0 L1708.3 660.6 L1711.0 643.5 L1713.4 657.2 L1718.5 677.6 L1723.6 698.1 L1728.7 715.1 L1733.8 739.0 L1736.2 752.6 L1739.0 721.9 L1744.1 718.5 L1746.5 732.1 L1749.2 762.8 L1752.6 776.4 L1756.0 769.6 L1758.7 749.2 L1761.1 752.6 L1765.0 776.3 L1768.3 787.9 L1771.6 799.5 L1774.1 812.8 L1781.6 813.6 L1786.6 818.6 L1793.2 822.8 L1799.8 822.0 L1808.1 824.4 L1813.1 826.9 L1819.8 826.1 L1826.4 830.8 L1831.4 826.9 L1835.5 824.4 L1839.7 827.8 L1843.0 830.8 L1849.6 830.2 L1853.0 833.1 L1859.6 834.4 L1864.6 835.2 L1868.7 834.4 L1874.5 839.4 L1881.2 842.7 L1884.5 845.2 L1888.6 848.5 L1892.8 845.2 L1899.4 846.9 L1906.1 850.2 L1912.7 850.2 L1919.3 854.3 L1926.0 854.3 L1930.1 853.5 L1935.9 857.6 L1940.9 859.3 L1945.9 859.3 L1950.9 863.4 L1957.5 867.6 L1959.2 859.3 L1962.5 856.0 L1967.5 858.5 L1972.5 862.6 L1977.4 864.3 L1982.4 866.8 L1985.7 861.0 L1990.7 856.0 L1995.7 852.7 L2002.3 849.3 L2009.0 846.9 L2013.9 842.7 L2018.9 837.7 L2025.6 836.9 L2030.5 832.7 L2038.8 832.4 L2045.5 833.1 L2050.5 832.4 L2053.8 826.1 L2058.8 818.6 L2063.7 816.1 L2066.3 816.4 L2072.8 818.6 L2081.6 821.8 L2090.3 821.8 L2099.0 817.5 L2104.5 812.0 L2107.0 797.7 L2117.2 787.5 L2124.1 780.6 L2127.5 763.6 L2129.2 729.5 L2130.9 719.3 L2136.0 709.1 L2141.1 705.7 L2144.5 692.1 L2151.3 685.3 L2159.8 683.6 L2164.9 690.4 L2175.2 697.2 L2183.7 702.3 L2188.8 692.1 L2193.9 678.5 L2199.0 675.0 L2205.8 678.5 L2207.8 681.9 L2207.7 985.6 L2203.8 987.8 L2199.5 996.5 L2193.0 1005.0 L2182.0 1008.5 L2160.0 1012.0 L2138.0 1014.0 L2095.0 1016.0 L2051.0 1017.0 L2030.0 1017.0 L2007.0 1018.0 L1964.0 1016.0 L1921.4 1016.5 L1904.8 1015.7 L1893.1 1016.5 L1879.8 1015.7 L1863.1 1014.0 L1846.5 1012.4 L1839.8 1009.9 L1829.8 1006.5 L1818.2 1004.9 L1811.5 998.2 L1804.8 992.4 L1797.3 988.6 L1791.5 991.6 L1782.3 990.7 L1779.8 994.9 L1774.8 994.1 L1768.2 989.9 L1759.9 985.7 L1754.9 982.4 L1744.9 979.1 L1738.2 975.7 L1734.9 969.1 L1731.5 961.6 L1726.5 959.1 L1721.6 953.3 L1716.6 947.4 L1711.6 944.1 L1706.6 939.9 L1699.9 937.4 L1696.6 930.0 L1691.6 921.6 L1687.4 913.3 L1684.1 926.6 L1680.8 939.1 L1678.3 936.6 L1673.3 926.6 L1666.6 918.3 L1661.6 915.8 L1658.3 913.3 L1653.3 912.5 L1646.6 909.1 L1639.1 900.8 L1635.8 893.3 L1633.3 901.6 L1630.0 906.6 L1623.3 907.5 L1618.3 913.0 L1610.0 914.1 L1601.7 917.5 L1595.0 922.5 L1588.3 933.3 L1585.0 945.0 L1580.0 947.5 L1572.5 949.4 L1567.5 951.2 L1557.5 952.5 L1545.0 951.9 L1537.5 952.5 L1532.5 955.0 L1525.0 955.6 L1515.0 954.4 L1503.8 955.6 L1495.0 954.4 L1482.5 953.1 L1470.0 952.5 L1462.5 951.2 L1450.0 951.2 L1445.0 953.1 L1430.0 952.5 L1425.0 954.4 L1411.2 953.8 L1402.5 954.4 L1400.0 957.5 L1392.5 959.4 L1378.8 960.0 L1373.8 961.2 L1370.0 966.9 L1361.2 967.5 L1357.5 970.6 L1355.0 973.8 L1345.0 976.9 L1335.0 978.8 L1326.2 980.2 L1320.0 981.9 L1278.0 983.0Z" fill="#ff0000"/>
<path d="M1278.0 983.0 L1320.0 972.5 L1330.0 958.8 L1340.0 953.1 L1350.0 949.4 L1392.5 935.0 L1397.5 930.0 L1402.5 925.6 L1407.5 923.1 L1413.8 920.6 L1423.8 920.0 L1431.2 917.8 L1437.5 916.9 L1442.5 914.4 L1448.8 914.4 L1455.0 915.0 L1460.0 912.5 L1463.8 910.0 L1467.5 906.2 L1472.5 902.5 L1477.5 898.8 L1482.5 895.0 L1487.5 891.2 L1493.8 889.4 L1496.2 885.0 L1500.0 880.6 L1507.5 878.8 L1515.0 876.2 L1520.0 872.5 L1526.2 868.8 L1532.5 863.8 L1536.2 860.0 L1540.0 855.0 L1547.5 842.5 L1557.5 827.5 L1567.5 817.5 L1570.3 807.1 L1573.7 779.8 L1577.1 725.3 L1582.2 704.9 L1587.3 686.1 L1595.8 679.3 L1606.1 672.5 L1614.6 664.0 L1621.4 655.5 L1626.5 647.0 L1631.6 653.8 L1636.7 665.7 L1641.8 674.2 L1647.0 684.4 L1652.1 670.8 L1657.2 664.0 L1662.3 670.8 L1667.4 681.0 L1672.5 691.2 L1677.6 704.9 L1682.7 725.3 L1686.1 749.2 L1689.5 773.0 L1694.7 790.1 L1701.5 802.0 L1708.3 812.2 L1715.1 808.8 L1725.3 815.6 L1739.0 820.7 L1752.6 831.0 L1766.2 839.5 L1776.4 848.0 L1794.8 860.0 L1803.2 863.3 L1809.8 870.0 L1819.8 878.3 L1823.1 886.6 L1833.1 891.6 L1839.8 901.6 L1853.1 910.0 L1859.8 920.0 L1866.4 928.3 L1869.8 926.6 L1873.1 921.6 L1879.8 916.6 L1886.4 910.0 L1891.4 903.3 L1894.8 901.3 L1899.8 906.6 L1903.9 903.0 L1908.9 903.6 L1913.9 898.0 L1918.1 901.6 L1921.4 904.1 L1925.6 901.6 L1929.7 906.6 L1936.4 910.0 L1941.4 916.6 L1946.4 926.6 L1949.7 929.1 L1954.7 921.6 L1960.5 917.0 L1968.0 920.8 L1976.4 924.1 L1984.7 928.3 L1993.0 931.6 L2001.3 930.0 L2007.3 933.2 L2016.1 937.5 L2027.0 937.5 L2033.5 932.1 L2037.9 924.5 L2046.6 915.7 L2055.4 909.2 L2061.9 902.6 L2068.5 893.9 L2077.2 888.4 L2085.9 886.2 L2094.7 884.1 L2105.6 875.3 L2116.5 872.0 L2127.4 865.5 L2138.3 860.0 L2144.9 855.7 L2151.4 846.9 L2160.2 837.1 L2171.1 832.8 L2182.0 830.6 L2190.7 824.0 L2199.5 813.1 L2202.8 802.2 L2204.0 794.0 L2207.7 780.6 L2207.8 935.4 L2199.5 946.3 L2192.9 955.0 L2177.6 957.2 L2171.1 963.8 L2164.5 969.2 L2151.4 972.5 L2147.1 976.9 L2138.3 980.1 L2123.1 981.2 L2105.6 984.5 L2085.9 987.8 L2068.5 991.0 L2051.0 994.3 L2035.7 997.6 L2029.2 1004.1 L2007.3 1005.2 L1996.3 1004.9 L1979.7 1006.5 L1959.7 1005.7 L1946.4 1007.4 L1933.1 1007.4 L1921.4 1004.9 L1909.7 1003.2 L1904.8 998.2 L1896.4 995.7 L1884.8 991.6 L1876.4 986.6 L1866.4 985.7 L1856.5 983.2 L1846.5 981.6 L1834.8 978.2 L1826.5 976.6 L1823.1 979.1 L1818.2 975.7 L1816.5 970.8 L1808.2 966.6 L1803.2 959.9 L1796.5 954.9 L1789.8 951.6 L1783.2 944.9 L1774.8 938.3 L1768.2 928.3 L1759.9 923.3 L1754.9 917.5 L1746.5 911.6 L1739.9 901.6 L1723.2 888.3 L1718.2 876.6 L1709.9 861.7 L1704.9 863.3 L1698.1 858.2 L1693.0 851.4 L1684.4 854.8 L1674.2 849.7 L1665.7 842.9 L1658.9 837.8 L1653.8 840.5 L1643.5 841.2 L1629.9 837.8 L1616.3 839.5 L1606.1 846.3 L1597.5 849.7 L1592.0 863.8 L1588.8 868.8 L1585.0 873.8 L1580.0 878.8 L1577.5 886.2 L1572.5 891.2 L1568.8 896.2 L1563.8 905.0 L1561.2 913.8 L1556.2 920.0 L1550.0 925.0 L1545.0 932.5 L1542.5 938.1 L1535.0 938.8 L1526.2 940.6 L1522.5 943.1 L1513.8 942.5 L1501.2 941.9 L1490.0 941.2 L1480.0 941.2 L1470.0 941.9 L1465.0 941.2 L1451.2 941.9 L1447.5 943.1 L1436.2 945.0 L1426.2 943.1 L1420.0 943.8 L1411.2 944.4 L1405.0 946.2 L1395.0 947.5 L1387.5 950.6 L1357.5 958.8 L1351.2 961.2 L1345.0 963.8 L1340.0 966.2 L1335.0 972.5 L1326.2 980.6 L1278.0 983.0Z" fill="#00ff00"/>
<g stroke="#000" stroke-width="1.1" fill="none" stroke-dasharray="4.8 2.3" shape-rendering="crispEdges">
<path d="M383.5 115.4V1047"/>
<path d="M462.5 115.4V1047"/>
<path d="M534.5 115.4V1047"/>
<path d="M612.5 115.4V1047"/>
<path d="M689.5 115.4V1047"/>
<path d="M768.5 115.4V1047"/>
<path d="M843.5 115.4V1047"/>
<path d="M923.5 115.4V1047"/>
<path d="M1002.5 115.4V1047"/>
<path d="M1079.5 115.4V1047"/>
<path d="M1158.5 115.4V1047"/>
<path d="M1234.5 115.4V1047"/>
<path d="M1313.5 115.4V1047"/>
<path d="M1392.5 115.4V1047"/>
<path d="M1463.5 115.4V1047"/>
<path d="M1542.5 115.4V1047"/>
<path d="M1619.5 115.4V1047"/>
<path d="M1698.5 115.4V1047"/>
<path d="M1774.5 115.4V1047"/>
<path d="M1853.5 115.4V1047"/>
<path d="M1932.5 115.4V1047"/>
<path d="M2008.5 115.4V1047"/>
<path d="M2087.5 115.4V1047"/>
<path d="M2164.5 115.4V1047"/>
<path d="M2207.5 115.4V1047"/>
<path d="M350 970.5H2207.7"/>
<path d="M350 892.5H2207.7"/>
<path d="M350 814.5H2207.7"/>
<path d="M350 736.5H2207.7"/>
<path d="M350 659.5H2207.7"/>
<path d="M350 581.5H2207.7"/>
<path d="M350 503.5H2207.7"/>
<path d="M350 426.5H2207.7"/>
<path d="M350 348.5H2207.7"/>
<path d="M350 270.5H2207.7"/>
<path d="M350 192.5H2207.7"/>
<path d="M350 115.5H2207.7"/>
</g>
<g stroke="#000" stroke-width="1.1" fill="none" shape-rendering="crispEdges">
<path d="M304.5 115.4V1047"/>
<path d="M305 970.5H350"/>
<path d="M305 892.5H350"/>
<path d="M305 814.5H350"/>
<path d="M305 736.5H350"/>
<path d="M305 659.5H350"/>
<path d="M305 581.5H350"/>
<path d="M305 503.5H350"/>
<path d="M305 426.5H350"/>
<path d="M305 348.5H350"/>
<path d="M305 270.5H350"/>
<path d="M305 192.5H350"/>
<path d="M305 115.5H350"/>
</g>
<path d="M1278 127V1047" stroke="#00ffff" stroke-width="10" stroke-dasharray="15 13.33" fill="none"/>
<g stroke="#ff0000" fill="none">
<path d="M305 285.9H2207.7" stroke-width="4.2"/>
<path d="M305 545.5H2207.7" stroke-width="2.6"/>
<path d="M305 765H2207.7" stroke-width="4.4"/>
<path d="M305 860.2H2207.7" stroke-width="3.8" stroke-dasharray="8 6.16"/>
<path d="M305 974.8H2207.7" stroke-width="3.8" stroke-dasharray="8 6.16"/>
<path d="M305 1045.0H2207.7" stroke-width="3.8" stroke-dasharray="8 6.16"/>
</g>
<g clip-path="url(#grayclip)"><path d="M303.0 566.0 L304.5 545.0 L306.0 520.0 L307.5 502.5 L311.2 480.0 L315.0 472.5 L317.5 469.2 L322.5 469.2 L323.8 472.0 L326.2 472.0 L327.5 469.2 L343.8 469.2 L346.2 472.5 L348.8 485.0 L355.5 485.0 L357.5 472.5 L361.2 469.2 L367.0 469.2 L369.5 473.8 L371.2 485.0 L393.8 485.0 L395.5 473.8 L399.5 469.2 L411.2 469.2 L415.0 473.2 L417.0 485.0 L422.5 485.0 L425.0 488.8 L427.0 500.0 L432.5 500.0 L435.0 503.8 L435.6 503.8 L436.2 520.0 L437.5 538.8 L438.1 546.9 L462.5 547.5 L465.0 557.5 L466.2 565.0 L468.1 565.6 L470.0 573.8 L471.9 581.2 L473.8 583.1 L475.0 588.8 L476.2 596.2 L478.8 596.9 L481.2 608.8 L490.0 609.4 L491.9 611.9 L493.8 612.5 L495.6 620.0 L496.9 617.5 L498.1 603.8 L499.4 588.8 L500.6 577.5 L501.9 570.0 L503.1 565.6 L505.6 565.0 L507.5 555.0 L508.8 549.4 L510.6 548.8 L511.9 546.9 L513.8 542.5 L514.4 530.0 L515.6 517.5 L517.5 507.5 L518.8 503.1 L521.2 500.2 L529.4 500.2 L531.2 503.8 L533.1 505.0 L534.4 517.5 L536.9 531.9 L552.5 532.2 L553.8 534.4 L555.6 535.0 L556.2 541.2 L557.2 535.0 L558.1 523.8 L559.4 519.4 L561.9 518.1 L563.8 508.8 L565.0 504.4 L566.9 503.1 L569.4 503.1 L570.6 506.2 L572.5 515.0 L575.0 517.5 L577.5 519.4 L578.8 522.5 L580.0 531.9 L583.1 533.8 L585.0 533.8 L586.2 523.8 L587.5 519.4 L590.0 517.5 L591.9 503.8 L592.5 495.0 L594.5 457.5 L597.5 454.5 L602.5 453.8 L605.0 442.0 L608.8 441.2 L610.0 438.0 L612.5 441.2 L615.0 448.8 L617.0 430.0 L618.8 410.0 L620.5 395.0 L623.8 392.5 L635.5 392.0 L638.0 378.8 L652.5 378.2 L656.2 375.0 L658.8 362.5 L662.0 360.0 L666.2 360.0 L667.5 362.5 L671.2 362.5 L672.5 360.0 L675.0 360.0 L676.2 363.0 L677.5 363.8 L680.0 380.0 L682.5 393.8 L683.8 392.5 L686.2 348.8 L690.0 348.2 L691.2 346.2 L693.0 348.2 L695.0 350.0 L696.8 358.8 L698.8 345.0 L701.2 315.0 L703.8 302.5 L706.2 300.0 L709.5 285.0 L712.5 283.0 L725.0 283.0 L728.8 286.2 L731.2 305.0 L733.8 313.8 L741.2 314.2 L742.5 315.5 L745.0 315.5 L746.2 314.2 L751.2 314.2 L753.8 317.0 L756.2 328.8 L761.2 329.5 L764.2 333.8 L766.2 347.5 L770.0 357.5 L773.8 380.0 L776.2 395.0 L778.8 410.0 L780.0 425.0 L782.5 445.0 L785.0 456.2 L787.5 457.5 L790.0 472.5 L793.0 490.0 L795.0 507.5 L797.0 506.2 L798.0 470.0 L798.8 441.2 L804.5 441.2 L807.5 456.2 L811.2 455.5 L813.8 453.8 L817.0 442.5 L820.0 438.0 L822.0 441.2 L824.5 442.0 L827.5 453.8 L832.5 456.2 L835.0 470.0 L837.5 486.2 L840.5 487.5 L842.5 500.0 L848.0 503.8 L850.0 515.0 L852.5 532.5 L853.5 535.0 L855.5 545.5 L860.0 552.5 L863.8 565.0 L867.5 577.5 L871.2 595.0 L875.0 606.2 L877.0 613.8 L881.2 609.5 L890.0 609.5 L895.0 613.8 L897.5 630.0 L900.0 640.0 L902.0 612.5 L903.8 597.0 L907.5 596.2 L910.0 605.0 L912.0 612.0 L923.8 612.0 L925.2 622.5 L926.5 630.0 L930.2 652.5 L935.2 657.5 L939.0 672.5 L944.0 685.0 L947.8 705.0 L952.8 720.0 L956.5 730.0 L960.2 740.0 L964.0 746.2 L971.5 746.2 L974.0 737.5 L977.8 734.5 L996.5 734.5 L999.0 721.2 L1002.8 718.0 L1015.2 718.0 L1019.0 721.2 L1021.5 737.5 L1027.8 740.0 L1031.5 747.5 L1035.2 752.5 L1045.2 752.0 L1049.0 760.0 L1052.8 767.5 L1056.5 772.5 L1060.2 767.5 L1062.8 747.5 L1065.2 740.0 L1067.8 725.0 L1070.2 692.5 L1074.0 687.5 L1084.0 687.5 L1086.5 689.5 L1093.5 689.5 L1096.0 675.0 L1100.2 671.2 L1110.2 671.2 L1113.5 676.2 L1115.2 687.0 L1130.2 687.0 L1133.5 690.0 L1136.0 702.5 L1141.5 706.2 L1143.5 717.5 L1146.0 700.0 L1147.8 685.0 L1150.2 674.5 L1157.8 673.0 L1165.2 671.2 L1167.8 658.8 L1171.5 656.2 L1180.2 655.8 L1182.8 643.8 L1186.5 640.0 L1193.5 639.5 L1196.0 627.5 L1199.0 623.8 L1201.0 612.5 L1204.5 609.5 L1209.0 608.8 L1211.0 582.5 L1214.5 578.2 L1217.0 581.2 L1224.0 581.2 L1226.5 588.8 L1229.5 577.5 L1232.0 555.0 L1234.0 537.5 L1235.7 520.0 L1237.2 502.5 L1241.0 480.0 L1244.7 472.5 L1247.2 469.2 L1252.2 469.2 L1253.5 472.0 L1256.0 472.0 L1257.2 469.2 L1273.5 469.2 L1276.0 472.5 L1278.5 485.0 L1285.2 485.0 L1287.2 472.5 L1291.0 469.2 L1296.7 469.2 L1299.2 473.8 L1301.0 485.0 L1323.5 485.0 L1325.2 473.8 L1329.2 469.2 L1341.0 469.2 L1344.7 473.2 L1346.7 485.0 L1352.2 485.0 L1354.7 488.8 L1356.7 500.0 L1362.2 500.0 L1364.7 503.8 L1365.3 503.8 L1366.0 520.0 L1367.2 538.8 L1367.8 546.9 L1392.2 547.5 L1394.7 557.5 L1396.0 565.0 L1397.8 565.6 L1399.7 573.8 L1401.6 581.2 L1403.5 583.1 L1404.7 588.8 L1406.0 596.2 L1408.5 596.9 L1411.0 608.8 L1419.7 609.4 L1421.6 611.9 L1423.5 612.5 L1425.3 620.0 L1426.6 617.5 L1427.8 603.8 L1429.1 588.8 L1430.3 577.5 L1431.6 570.0 L1432.8 565.6 L1435.3 565.0 L1437.2 555.0 L1438.5 549.4 L1440.3 548.8 L1441.6 546.9 L1443.5 542.5 L1444.1 530.0 L1445.3 517.5 L1447.2 507.5 L1448.5 503.1 L1451.0 500.2 L1459.1 500.2 L1461.0 503.8 L1462.8 505.0 L1464.1 517.5 L1466.6 531.9 L1482.2 532.2 L1483.5 534.4 L1485.3 535.0 L1486.0 541.2 L1487.0 535.0 L1487.8 523.8 L1489.1 519.4 L1491.6 518.1 L1493.5 508.8 L1494.7 504.4 L1496.6 503.1 L1499.1 503.1 L1500.3 506.2 L1502.2 515.0 L1504.7 517.5 L1507.2 519.4 L1508.5 522.5 L1509.7 531.9 L1512.8 533.8 L1514.7 533.8 L1516.0 523.8 L1517.2 519.4 L1519.7 517.5 L1521.6 503.8 L1522.2 495.0 L1524.2 457.5 L1527.2 454.5 L1532.2 453.8 L1534.7 442.0 L1538.5 441.2 L1539.7 438.0 L1542.2 441.2 L1544.7 448.8 L1546.7 430.0 L1548.5 410.0 L1550.2 395.0 L1553.5 392.5 L1565.2 392.0 L1567.7 378.8 L1582.2 378.2 L1586.0 375.0 L1588.5 362.5 L1591.7 360.0 L1596.0 360.0 L1597.2 362.5 L1601.0 362.5 L1602.2 360.0 L1604.7 360.0 L1606.0 363.0 L1607.2 363.8 L1609.7 380.0 L1612.2 393.8 L1613.5 392.5 L1616.0 348.8 L1619.7 348.2 L1621.0 346.2 L1622.7 348.2 L1624.7 350.0 L1626.5 358.8 L1628.5 345.0 L1631.0 315.0 L1633.5 302.5 L1636.0 300.0 L1639.2 285.0 L1642.2 283.0 L1654.7 283.0 L1658.5 286.2 L1661.0 305.0 L1663.5 313.8 L1671.0 314.2 L1672.2 315.5 L1674.7 315.5 L1676.0 314.2 L1681.0 314.2 L1683.5 317.0 L1686.0 328.8 L1691.0 329.5 L1694.0 333.8 L1696.0 347.5 L1699.7 357.5 L1703.5 380.0 L1706.0 395.0 L1708.5 410.0 L1709.7 425.0 L1712.2 445.0 L1714.7 456.2 L1717.2 457.5 L1719.7 472.5 L1722.7 490.0 L1724.7 507.5 L1726.7 506.2 L1727.7 470.0 L1728.5 441.2 L1734.2 441.2 L1737.2 456.2 L1741.0 455.5 L1743.5 453.8 L1746.7 442.5 L1749.7 438.0 L1751.7 441.2 L1754.2 442.0 L1757.2 453.8 L1762.2 456.2 L1764.7 470.0 L1767.2 486.2 L1770.2 487.5 L1772.2 500.0 L1777.7 503.8 L1779.7 515.0 L1782.2 532.5 L1783.2 535.0 L1785.2 545.5 L1789.7 552.5 L1793.5 565.0 L1797.2 577.5 L1801.0 595.0 L1804.7 606.2 L1806.7 613.8 L1811.0 609.5 L1819.7 609.5 L1824.7 613.8 L1827.2 630.0 L1829.7 640.0 L1831.7 612.5 L1833.5 597.0 L1837.2 596.2 L1839.7 605.0 L1841.7 612.0 L1853.5 612.0 L1855.0 622.5 L1856.2 630.0 L1860.0 652.5 L1865.0 657.5 L1868.7 672.5 L1873.7 685.0 L1877.5 705.0 L1882.5 720.0 L1886.2 730.0 L1890.0 740.0 L1893.7 746.2 L1901.2 746.2 L1903.7 737.5 L1907.5 734.5 L1926.2 734.5 L1928.7 721.2 L1932.5 718.0 L1945.0 718.0 L1948.7 721.2 L1951.2 737.5 L1957.5 740.0 L1961.2 747.5 L1965.0 752.5 L1975.0 752.0 L1978.7 760.0 L1982.5 767.5 L1986.2 772.5 L1990.0 767.5 L1992.5 747.5 L1995.0 740.0 L1997.5 725.0 L2000.0 692.5 L2003.7 687.5 L2013.7 687.5 L2016.2 689.5 L2023.2 689.5 L2025.7 675.0 L2030.0 671.2 L2040.0 671.2 L2043.2 676.2 L2045.0 687.0 L2059.9 687.0 L2063.2 690.0 L2065.7 702.5 L2071.2 706.2 L2073.2 717.5 L2075.7 700.0 L2077.4 685.0 L2079.9 674.5 L2087.4 673.0 L2094.9 671.2 L2097.4 658.8 L2101.2 656.2 L2109.9 655.8 L2112.4 643.8 L2116.2 640.0 L2123.2 639.5 L2125.7 627.5 L2128.7 623.8 L2130.7 612.5 L2134.2 609.5 L2138.7 608.8 L2140.7 582.5 L2144.2 578.2 L2146.7 581.2 L2153.7 581.2 L2156.2 588.8 L2159.2 577.5 L2161.7 555.0 L2163.7 537.5 L2165.4 520.0 L2166.9 502.5 L2170.7 480.0 L2174.4 472.5 L2176.9 469.2 L2181.9 469.2 L2183.2 472.0 L2185.7 472.0 L2186.9 469.2 L2203.2 469.2 L2205.7 472.5 L2207.7 482.7" stroke="#d3d3d3" stroke-width="11.5" fill="none" stroke-linejoin="round"/><path d="M303.8 1023.8 L317.5 1020.5 L342.5 1021.2 L362.5 1023.8 L377.5 1023.8 L385.0 1028.8 L392.5 1035.0 L400.0 1042.5 L412.5 1046.2 L450.0 1047.0 L525.0 1046.5 L622.5 1045.5 L625.0 1041.2 L630.0 1042.0 L635.0 1038.8 L638.8 1036.2 L641.2 1038.8 L647.5 1038.8 L652.5 1030.0 L657.5 1020.0 L661.2 1000.0 L667.5 990.0 L672.5 982.5 L677.5 980.0 L690.0 978.8 L695.0 970.0 L698.8 956.2 L705.0 952.5 L710.0 940.0 L720.0 927.5 L726.2 923.8 L730.0 915.0 L736.2 900.0 L742.5 896.2 L752.5 892.5 L762.5 887.5 L767.5 882.5 L770.0 888.8 L775.0 891.2 L780.0 897.5 L785.0 905.0 L793.8 906.2 L798.8 902.5 L802.5 895.0 L806.2 900.0 L825.0 902.5 L832.5 912.5 L840.0 922.5 L845.0 925.0 L850.0 925.0 L853.8 930.0 L860.0 940.0 L865.0 943.8 L871.2 942.5 L877.5 950.0 L885.0 955.0 L892.5 956.2 L900.0 965.0 L904.0 967.5 L911.5 972.5 L921.5 976.2 L929.0 980.0 L934.0 985.0 L944.0 991.2 L954.0 1000.0 L961.5 1005.0 L966.5 1011.2 L976.5 1015.0 L989.0 1017.5 L1004.0 1017.5 L1016.5 1018.8 L1034.0 1018.8 L1046.5 1021.2 L1056.5 1023.8 L1061.5 1028.8 L1069.0 1031.2 L1075.2 1028.8 L1079.0 1023.8 L1094.0 1022.0 L1109.0 1020.0 L1129.0 1022.0 L1144.0 1020.0 L1159.0 1020.0 L1174.0 1021.2 L1186.5 1022.5 L1196.5 1025.0 L1204.0 1025.0 L1210.2 1021.2 L1214.0 1017.5 L1219.0 1021.2 L1229.0 1022.5 L1234.5 1023.8 L1247.2 1020.5 L1272.2 1021.2 L1292.2 1023.8 L1307.2 1023.8 L1314.7 1028.8 L1322.2 1035.0 L1329.7 1042.5 L1342.2 1046.2 L1379.7 1047.0 L1454.7 1046.5 L1552.2 1045.5 L1554.7 1041.2 L1559.7 1042.0 L1564.7 1038.8 L1568.5 1036.2 L1571.0 1038.8 L1577.2 1038.8 L1582.2 1030.0 L1587.2 1020.0 L1591.0 1000.0 L1597.2 990.0 L1602.2 982.5 L1607.2 980.0 L1619.7 978.8 L1624.7 970.0 L1628.5 956.2 L1634.7 952.5 L1639.7 940.0 L1649.7 927.5 L1656.0 923.8 L1659.7 915.0 L1666.0 900.0 L1672.2 896.2 L1682.2 892.5 L1692.2 887.5 L1697.2 882.5 L1699.7 888.8 L1704.7 891.2 L1709.7 897.5 L1714.7 905.0 L1723.5 906.2 L1728.5 902.5 L1732.2 895.0 L1736.0 900.0 L1754.7 902.5 L1762.2 912.5 L1769.7 922.5 L1774.7 925.0 L1779.7 925.0 L1783.5 930.0 L1789.7 940.0 L1794.7 943.8 L1801.0 942.5 L1807.2 950.0 L1814.7 955.0 L1822.2 956.2 L1829.7 965.0 L1833.7 967.5 L1841.2 972.5 L1851.2 976.2 L1858.7 980.0 L1863.7 985.0 L1873.7 991.2 L1883.7 1000.0 L1891.2 1005.0 L1896.2 1011.2 L1906.2 1015.0 L1918.7 1017.5 L1933.7 1017.5 L1946.2 1018.8 L1963.7 1018.8 L1976.2 1021.2 L1986.2 1023.8 L1991.2 1028.8 L1998.7 1031.2 L2005.0 1028.8 L2008.7 1023.8 L2023.7 1022.0 L2038.7 1020.0 L2058.7 1022.0 L2073.7 1020.0 L2088.7 1020.0 L2103.7 1021.2 L2116.2 1022.5 L2126.2 1025.0 L2133.7 1025.0 L2139.9 1021.2 L2143.7 1017.5 L2148.7 1021.2 L2158.7 1022.5 L2164.2 1023.8 L2176.9 1020.5 L2201.9 1021.2 L2207.7 1022.0" stroke="#d3d3d3" stroke-width="11.5" fill="none" stroke-linejoin="round"/></g>
</g>
<path d="M305.0 975.5 L307.4 973.7 L310.1 972.5 L312.5 972.0 L314.7 971.3 L317.2 970.4 L319.7 969.0 L322.5 969.8 L324.8 967.9 L327.6 968.6 L330.0 966.8 L332.8 965.7 L335.2 965.8 L335.4 961.4 L336.1 958.8 L336.7 954.2 L337.6 949.7 L339.4 944.1 L341.0 939.4 L344.3 936.5 L347.0 933.5 L350.0 929.6 L353.3 925.4 L356.1 920.1 L359.4 919.8 L362.6 917.6 L365.3 917.0 L367.5 918.1 L369.8 917.4 L372.2 917.5 L375.2 917.1 L377.7 916.5 L380.1 916.9 L382.5 916.5 L385.2 917.3 L387.5 916.6 L389.7 916.3 L392.6 916.6 L395.2 914.9 L397.4 915.3 L399.7 912.8 L402.3 910.1 L404.7 909.3 L407.3 907.8 L409.9 908.7 L412.2 907.4 L415.0 908.8 L417.7 909.3 L419.9 908.9 L422.4 910.4 L425.3 909.5 L427.3 910.2 L429.8 911.2 L432.6 909.8 L434.7 909.2 L437.4 908.6 L440.3 907.9 L442.5 906.5 L445.1 904.1 L447.7 904.3 L450.2 903.1 L452.4 901.5 L454.8 901.3 L457.2 899.4 L459.8 898.8 L462.4 898.7 L464.7 899.0 L467.3 899.5 L469.7 900.6 L472.6 899.2 L474.9 899.7 L477.4 899.9 L480.2 902.2 L482.5 901.8 L484.8 901.7 L487.4 902.7 L490.2 903.1 L492.2 905.2 L495.0 904.1 L497.5 904.4 L500.0 906.8 L502.7 906.8 L504.9 906.7 L507.3 908.0 L510.0 908.2 L512.4 907.3 L515.2 909.0 L517.7 908.8 L520.2 908.9 L522.3 908.6 L524.9 907.8 L527.2 907.8 L529.9 908.1 L532.8 907.1 L535.3 907.7 L537.8 906.0 L539.8 905.1 L542.3 904.4 L545.1 905.2 L547.7 903.7 L550.1 904.1 L552.3 903.6 L555.2 903.6 L557.7 902.7 L559.8 903.1 L562.4 903.3 L565.3 902.7 L567.4 904.0 L570.1 902.7 L572.3 902.8 L575.2 904.4 L577.3 905.2 L580.3 905.7 L582.4 906.3 L584.8 906.1 L587.8 908.2 L590.0 909.6 L592.5 909.7 L595.2 908.7 L597.4 909.1 L599.8 909.9 L602.4 909.8 L604.8 907.1 L607.4 902.4 L608.6 899.3 L609.5 895.3 L610.5 890.6 L611.5 885.5 L612.5 881.9 L614.7 878.1 L617.3 872.4 L620.1 871.1 L622.4 869.5 L625.0 868.6 L627.3 868.0 L629.8 867.4 L632.7 867.7 L635.0 868.1 L637.7 867.4 L640.1 867.4 L642.5 867.7 L645.0 867.4 L647.5 868.1 L650.1 867.9 L652.8 866.6 L655.0 867.9 L657.7 865.2 L659.8 864.7 L662.2 863.2 L664.7 865.3 L667.7 867.0 L669.8 867.9 L672.6 869.0 L675.2 872.8 L677.3 875.0 L679.9 876.2 L682.8 877.7 L684.8 877.8 L687.5 878.4 L689.8 878.4 L692.6 877.8 L695.0 878.6 L697.2 878.4 L700.1 881.7 L702.2 885.6 L705.2 888.4 L707.3 889.8 L709.7 893.7 L712.4 895.2 L715.0 899.6 L717.7 899.8 L719.8 902.7 L722.5 903.8 L724.8 904.1 L727.6 906.4 L729.7 909.0 L732.6 910.3 L734.8 912.0 L737.2 915.3 L740.0 917.6 L742.5 922.1 L744.9 922.4 L747.5 924.5 L749.8 926.2 L752.2 928.2 L754.9 930.2 L757.7 932.1 L760.0 933.7 L762.4 935.3 L764.9 936.8 L767.6 939.4 L769.8 940.7 L772.8 941.5 L775.2 943.6 L777.5 945.7 L779.9 946.3 L782.6 948.5 L784.9 949.4 L787.6 950.3 L789.9 951.4 L792.2 952.8 L794.7 955.7 L797.4 956.3 L799.8 959.4 L802.7 960.3 L804.9 960.7 L807.4 962.4 L809.8 961.8 L812.4 962.2 L815.3 960.7 L817.3 960.9 L819.9 958.9 L822.2 958.1 L825.0 957.5 L825.7 953.8 L826.4 949.5 L827.3 946.0 L829.7 944.5 L832.4 944.0 L835.1 943.8 L837.7 943.1 L840.1 942.6 L842.4 940.6 L845.3 939.3 L847.6 939.7 L849.7 939.4 L852.7 938.4 L855.1 938.1 L857.3 933.8 L860.0 930.7 L860.6 926.5 L860.9 922.5 L861.4 917.9 L861.5 912.4 L861.9 908.9 L862.3 905.7 L865.0 903.6 L867.6 902.0 L870.0 899.0 L872.7 899.9 L875.0 898.8 L877.6 897.3 L880.1 897.0 L882.2 899.5 L885.1 901.9 L887.6 906.0 L890.0 908.9 L892.5 913.7 L895.2 917.7 L897.6 921.2 L899.8 926.2 L902.6 930.9 L904.0 935.3 L906.2 938.3 L909.1 941.6 L911.6 943.3 L914.0 946.2 L916.5 947.7 L919.2 950.0 L921.8 953.7 L923.7 954.9 L926.7 960.9 L929.0 964.5 L930.5 969.6 L932.2 972.7 L933.8 976.3 L936.8 977.4 L939.2 980.0 L941.7 982.3 L943.8 984.5 L946.5 984.4 L948.7 986.9 L951.5 988.0 L953.8 989.7 L956.4 992.6 L958.7 994.3 L961.7 994.9 L964.3 997.9 L966.7 1000.0 L968.9 1003.1 L971.8 1006.4 L973.9 1006.6 L976.4 1006.3 L978.8 1008.4 L981.4 1009.1 L983.8 1008.3 L986.5 1008.1 L988.9 1009.7 L991.7 1009.4 L994.1 1009.6 L996.8 1008.8 L999.1 1007.8 L1001.6 1008.7 L1004.2 1009.0 L1006.4 1008.0 L1009.3 1008.4 L1011.5 1009.0 L1013.9 1009.9 L1016.8 1009.1 L1019.1 1009.4 L1021.5 1009.8 L1023.8 1009.5 L1026.3 1011.1 L1029.0 1009.9 L1031.7 1011.4 L1034.0 1009.6 L1036.3 1009.4 L1038.9 1009.3 L1041.3 1009.6 L1044.0 1010.8 L1046.6 1009.2 L1048.9 1008.7 L1051.4 1007.7 L1053.7 1008.2 L1056.8 1008.6 L1059.0 1010.3 L1061.7 1009.7 L1063.9 1010.1 L1066.4 1010.8 L1069.3 1011.9 L1071.7 1010.6 L1073.7 1012.3 L1076.7 1012.1 L1079.1 1011.5 L1081.4 1013.5 L1084.2 1013.5 L1086.8 1012.4 L1088.8 1012.3 L1091.5 1013.5 L1094.3 1013.7 L1096.6 1013.9 L1099.0 1013.6 L1101.2 1014.2 L1103.8 1014.6 L1106.6 1013.4 L1108.8 1013.4 L1111.6 1014.4 L1113.8 1013.2 L1116.5 1014.3 L1118.9 1013.6 L1121.6 1013.3 L1123.9 1014.3 L1126.8 1014.7 L1129.2 1014.5 L1131.3 1013.7 L1134.3 1014.3 L1136.4 1012.6 L1139.0 1013.5 L1141.5 1012.4 L1144.1 1013.4 L1146.3 1011.3 L1148.9 1011.7 L1151.6 1011.0 L1154.2 1011.7 L1156.5 1010.4 L1159.3 1010.4 L1161.7 1010.0 L1163.8 1010.8 L1166.4 1010.9 L1169.0 1009.1 L1171.3 1009.3 L1174.1 1010.1 L1176.3 1008.8 L1178.8 1009.7 L1181.3 1007.5 L1183.7 1007.9 L1186.7 1008.6 L1189.1 1008.5 L1191.8 1007.2 L1193.8 1008.5 L1196.6 1006.8 L1199.1 1007.6 L1201.4 1007.6 L1203.8 1007.0 L1206.4 1007.6 L1209.3 1007.1 L1211.8 1007.2 L1213.9 1008.4 L1216.7 1007.6 L1218.7 1007.6 L1221.4 1008.4 L1223.8 1007.2 L1226.7 1006.1 L1228.9 1007.3 L1231.7 1005.3 L1233.7 1005.0 L1236.8 1004.9 L1239.1 1005.8 L1241.4 1004.1 L1244.3 1004.4 L1246.4 1004.2 L1248.9 1000.2 L1251.2 998.0 L1254.2 994.6 L1256.8 990.3 L1258.8 990.3 L1261.8 990.3 L1263.9 987.9 L1266.5 987.5 L1270.3 985.6 L1272.8 985.8 L1275.5 984.9 L1278.1 983.1" stroke="#0000ff" stroke-width="13.5" fill="none" stroke-linejoin="round"/>
<path d="M1278.0 983.5 L1280.2 982.4 L1282.6 981.2 L1284.9 981.9 L1287.4 980.4 L1289.8 980.8 L1292.4 981.1 L1295.2 980.8 L1297.4 979.1 L1299.8 979.5 L1302.6 979.2 L1304.9 978.9 L1307.6 979.0 L1310.1 978.9 L1312.6 977.4 L1315.2 977.3 L1317.5 977.1 L1320.1 976.4 L1322.4 974.3 L1324.8 973.1 L1327.5 969.1 L1330.0 967.0 L1332.5 963.3 L1335.1 961.5 L1337.7 958.1 L1340.0 957.4 L1342.7 955.7 L1344.8 952.8 L1347.3 951.7 L1350.2 951.4 L1352.7 950.1 L1355.2 949.3 L1357.4 949.2 L1360.2 947.5 L1362.5 947.7 L1364.9 946.7 L1367.3 945.8 L1369.9 945.7 L1372.6 944.3 L1374.8 943.7 L1377.6 942.7 L1379.9 942.0 L1382.6 941.8 L1384.8 940.3 L1387.4 940.2 L1390.1 938.7 L1392.3 939.4 L1395.0 938.5 L1397.4 939.3 L1399.9 938.5 L1402.4 938.0 L1405.2 938.4 L1407.4 936.6 L1410.1 936.1 L1412.3 936.7 L1415.0 936.0 L1417.5 935.6 L1420.0 934.3 L1422.3 934.7 L1425.1 935.0 L1427.3 934.4 L1429.9 934.0 L1432.3 933.4 L1435.0 934.3 L1437.3 933.5 L1440.1 934.1 L1442.4 932.6 L1445.2 933.9 L1447.5 932.7 L1450.2 933.4 L1452.7 934.1 L1455.2 933.6 L1457.6 933.9 L1460.0 935.1 L1462.7 934.1 L1464.9 934.6 L1467.5 934.7 L1469.8 934.6 L1472.6 935.6 L1474.8 935.1 L1477.6 934.3 L1480.2 934.4 L1482.5 935.1 L1485.1 934.2 L1487.5 934.2 L1490.0 933.8 L1492.5 933.0 L1494.8 933.0 L1497.5 932.1 L1500.1 932.6 L1502.5 931.4 L1505.0 930.0 L1507.3 929.3 L1509.8 928.0 L1512.5 925.9 L1515.1 924.5 L1517.6 924.2 L1520.0 921.4 L1522.5 920.2 L1525.2 918.2 L1527.7 917.9 L1530.1 915.9 L1532.4 914.5 L1533.7 910.7 L1535.2 905.7 L1537.0 903.2 L1538.5 898.5 L1542.0 895.7 L1545.2 893.4 L1546.4 888.8 L1547.5 885.7 L1549.2 879.6 L1551.3 874.7 L1553.5 870.1 L1556.1 866.9 L1558.8 860.6 L1561.1 857.7 L1563.6 854.5 L1566.3 851.4 L1569.0 849.0 L1571.3 846.7 L1573.6 844.1 L1576.4 840.4 L1579.0 837.4 L1581.6 835.3 L1583.9 833.1 L1586.4 829.6 L1589.1 826.8 L1592.0 823.7 L1594.8 821.5 L1597.6 817.6 L1600.0 811.4 L1602.4 806.5 L1603.4 802.9 L1604.0 799.6 L1604.5 794.4 L1605.5 790.0 L1605.8 786.4 L1607.6 782.4 L1609.3 778.8 L1611.2 774.3 L1614.1 774.7 L1616.7 775.4 L1619.6 774.2 L1621.8 776.1 L1624.4 777.5 L1626.5 777.8 L1628.5 778.9 L1631.1 779.0 L1633.4 779.8 L1636.1 775.1 L1638.3 770.3 L1638.5 765.7 L1639.0 761.3 L1639.1 758.1 L1639.3 753.8 L1640.1 749.2 L1640.0 745.9 L1640.4 742.0 L1640.9 737.3 L1640.9 733.5 L1641.1 730.5 L1641.7 726.2 L1641.6 722.5 L1644.5 721.9 L1647.1 721.8 L1647.1 725.3 L1647.4 729.1 L1647.7 734.2 L1648.2 738.4 L1648.5 741.4 L1648.7 745.7 L1649.1 749.8 L1649.1 753.9 L1649.7 757.2 L1650.0 760.9 L1650.0 765.2 L1650.5 770.3 L1651.8 773.6 L1653.1 777.9 L1654.1 783.0 L1655.5 787.0 L1657.3 792.0 L1658.9 796.3 L1660.7 800.9 L1663.1 803.2 L1665.7 805.1 L1668.1 808.1 L1670.6 811.2 L1673.4 811.8 L1676.1 815.3 L1678.9 816.1 L1681.5 818.0 L1684.5 820.9 L1687.3 822.5 L1689.7 823.6 L1692.6 825.3 L1695.5 826.8 L1697.9 828.1 L1701.0 829.6 L1703.3 829.8 L1706.1 830.9 L1709.1 833.5 L1711.8 834.9 L1714.5 836.1 L1716.9 837.8 L1720.0 840.0 L1722.5 842.4 L1725.1 844.2 L1727.6 847.5 L1730.1 849.4 L1732.8 852.3 L1735.2 855.0 L1737.2 857.3 L1739.8 860.4 L1742.0 862.5 L1744.3 864.0 L1746.7 866.0 L1749.2 868.6 L1751.3 871.2 L1754.2 874.9 L1756.3 876.6 L1759.0 879.2 L1761.4 880.8 L1763.9 883.4 L1766.4 885.7 L1768.9 887.0 L1771.6 890.0 L1773.8 892.7 L1776.3 895.4 L1779.1 898.3 L1781.6 900.6 L1784.0 903.5 L1786.7 906.0 L1789.2 908.8 L1791.4 912.1 L1794.2 915.4 L1796.4 918.9 L1799.1 921.6 L1802.1 925.4 L1804.9 928.5 L1807.5 930.8 L1810.2 934.4 L1813.2 937.0 L1815.8 938.5 L1818.8 940.6 L1821.3 942.4 L1824.0 942.9 L1826.0 943.8 L1828.6 945.5 L1830.6 945.2 L1833.0 946.3 L1835.6 946.3 L1838.1 946.5 L1840.9 947.6 L1842.9 948.2 L1845.3 947.6 L1848.0 948.6 L1850.2 948.3 L1852.3 949.0 L1854.6 948.6 L1857.5 949.7 L1860.3 952.3 L1863.2 953.3 L1865.4 955.4 L1867.4 957.9 L1869.7 960.3 L1872.5 963.1 L1874.8 967.0 L1877.2 968.6 L1879.9 972.2 L1882.1 973.6 L1884.4 975.2 L1886.5 976.5 L1889.7 975.1 L1890.4 969.8 L1891.6 965.3 L1894.8 959.5 L1897.2 959.8 L1899.8 959.8 L1901.5 963.9 L1902.9 966.8 L1905.7 969.7 L1908.1 974.0 L1910.4 975.4 L1912.9 977.9 L1915.7 977.6 L1917.6 977.9 L1920.2 978.3 L1922.6 978.3 L1925.1 978.3 L1927.3 979.1 L1929.6 978.9 L1932.2 979.0 L1934.5 979.4 L1937.2 978.0 L1939.6 978.6 L1942.0 978.7 L1944.7 979.2 L1947.1 978.5 L1949.6 979.4 L1952.4 979.1 L1954.6 979.6 L1957.2 978.7 L1959.5 979.6 L1962.4 979.4 L1964.7 979.4 L1967.1 980.1 L1969.6 979.6 L1972.3 979.9 L1974.7 979.1 L1977.2 978.9 L1979.9 979.3 L1982.8 979.5 L1985.4 979.7 L1987.9 979.5 L1990.2 980.3 L1992.8 979.5 L1995.2 979.8 L1997.7 979.9 L2000.3 979.4 L2002.9 980.1 L2004.9 980.0 L2007.5 977.0 L2009.3 974.1 L2012.5 971.7 L2015.1 972.1 L2018.3 969.9 L2020.8 970.3 L2023.6 971.8 L2026.4 971.4 L2029.4 973.0 L2031.9 971.7 L2035.0 970.0 L2038.0 968.8 L2041.0 969.0 L2043.6 969.2 L2046.7 969.6 L2049.5 967.6 L2052.5 964.5 L2055.2 962.1 L2058.3 960.9 L2061.2 959.9 L2064.1 959.4 L2066.3 961.4 L2068.2 962.8 L2070.6 963.9 L2072.9 962.1 L2075.0 959.3 L2077.4 956.5 L2080.2 956.0 L2082.8 954.5 L2086.0 953.5 L2088.8 952.9 L2091.8 951.4 L2094.9 949.9 L2097.7 948.7 L2100.4 946.9 L2103.3 944.1 L2106.3 942.3 L2109.1 939.6 L2112.1 937.6 L2115.2 936.9 L2118.1 936.7 L2120.9 936.1 L2123.1 933.9 L2125.3 930.4 L2127.3 926.3 L2130.2 923.9 L2133.3 921.3 L2135.9 918.3 L2138.5 915.8 L2140.3 913.2 L2142.5 910.9 L2145.8 910.8 L2148.6 910.4 L2151.6 909.3 L2154.4 907.2 L2157.4 905.0 L2160.3 902.2 L2162.4 900.4 L2164.7 897.6 L2166.6 895.3 L2169.0 892.4 L2171.2 887.1 L2174.2 886.0 L2176.9 883.3 L2179.7 881.8 L2182.5 881.2 L2185.4 881.5 L2187.8 880.3 L2190.5 879.1 L2193.8 879.1 L2196.8 878.2 L2199.2 877.3 L2201.7 876.8 L2204.1 874.6 L2206.0 872.5 L2208.4 870.5" stroke="#0000ff" stroke-width="10.2" fill="none" stroke-linejoin="round"/>
<path d="M305.0 867.5 L306.1 865.7 L307.9 862.1 L309.9 858.1 L312.4 853.6 L314.9 848.2 L317.6 845.9 L320.1 843.4 L322.3 841.6 L325.1 840.0 L327.6 837.4 L330.0 836.5 L332.5 835.5 L334.9 834.3 L337.6 830.3 L339.8 828.2 L342.6 827.5 L344.9 828.3 L346.8 831.7 L348.7 834.0 L351.4 834.6 L354.1 834.7 L356.7 834.9 L359.5 834.7 L362.3 834.4 L365.0 834.8 L367.7 837.0 L370.0 838.5 L372.3 837.4 L375.1 835.4 L377.2 834.5 L379.7 834.1 L380.4 829.1 L381.2 825.5 L383.7 822.1 L386.3 819.2 L389.5 817.9 L392.3 817.2 L396.2 814.6 L400.1 820.5 L402.3 822.6 L405.1 824.9 L408.2 824.5 L411.4 825.4 L413.8 827.4 L416.2 828.3 L418.8 829.1 L421.1 829.1 L423.9 832.8 L426.3 837.7 L428.7 838.4 L431.2 840.3 L434.2 840.0 L436.7 840.4 L439.8 839.7 L442.5 840.5 L445.1 838.5 L447.5 837.1 L449.9 838.8 L452.4 841.5 L455.0 841.6 L457.5 841.9 L459.9 841.6 L462.7 842.3 L464.9 844.2 L467.6 845.1 L470.0 846.8 L472.5 847.0 L474.8 848.8 L477.6 848.9 L480.0 849.2 L483.2 849.0 L486.4 849.1 L489.5 852.4 L492.4 854.4 L495.5 857.1 L498.6 859.5 L501.7 861.3 L504.6 862.2 L507.6 862.0 L510.0 862.4 L512.4 863.1 L514.9 862.6 L517.6 863.0 L520.1 862.8 L522.5 862.9 L525.2 864.3 L527.4 863.6 L529.9 864.4 L532.6 865.5 L535.1 865.7 L537.6 867.8 L540.1 869.3 L542.3 869.1 L545.1 870.8 L547.6 870.8 L550.0 872.1 L552.4 872.3 L554.9 871.4 L557.5 870.8 L559.9 870.1 L562.6 869.7 L565.1 869.6 L567.3 873.6 L569.9 876.8 L572.6 877.0 L574.9 876.8 L577.4 877.7 L580.1 877.7 L582.5 878.2 L585.1 879.3 L587.5 879.9 L589.9 880.7 L593.2 883.8 L596.1 886.7 L598.7 886.6 L601.1 886.8 L603.9 887.3 L606.3 887.5 L609.1 888.0 L611.7 888.1 L614.4 888.0 L617.4 887.2 L620.0 887.2 L622.4 885.3 L625.0 884.3 L627.7 880.5 L629.9 876.0 L631.4 871.7 L632.6 867.9 L633.9 863.5 L635.1 859.8 L636.1 855.7 L637.6 852.5 L638.6 848.7 L640.1 844.7 L641.6 840.2 L643.0 836.6 L644.8 831.5 L646.1 827.0 L648.0 822.9 L649.5 818.0 L651.3 814.0 L652.0 809.5 L652.4 804.5 L653.2 801.1 L653.8 797.0 L654.5 793.6 L655.1 790.4 L656.2 785.3 L657.6 781.6 L658.9 777.2 L659.5 773.7 L660.4 768.8 L661.2 765.1 L662.3 760.6 L663.7 756.3 L667.4 755.3 L671.4 757.9 L673.1 754.0 L675.0 750.3 L676.1 746.3 L677.7 741.7 L678.8 737.5 L679.4 733.2 L680.2 729.7 L680.5 725.8 L681.2 722.9 L684.8 717.0 L685.7 713.0 L686.2 709.3 L687.0 705.0 L690.1 699.5 L692.6 696.5 L694.8 692.0 L698.0 687.5 L698.6 682.9 L699.3 678.7 L700.0 675.4 L700.9 670.9 L702.1 666.3 L703.1 663.0 L706.2 659.4 L708.9 659.3 L711.2 659.5 L713.8 658.6 L715.3 654.2 L717.0 650.6 L720.1 644.2 L722.6 650.4 L724.2 654.8 L726.4 660.0 L729.1 659.2 L732.1 658.8 L735.0 658.2 L735.8 655.0 L736.5 650.8 L737.7 647.8 L739.4 642.7 L742.1 648.0 L743.0 651.9 L743.8 657.2 L746.3 658.5 L748.8 660.5 L750.7 664.7 L752.5 669.9 L756.4 674.2 L759.4 680.2 L760.2 685.1 L761.4 690.0 L764.4 696.2 L765.1 699.6 L765.5 703.3 L766.2 707.4 L767.4 710.9 L768.6 715.1 L770.1 718.9 L772.3 721.4 L774.4 724.0 L775.7 727.6 L776.9 731.2 L777.9 734.7 L780.8 736.3 L783.7 737.6 L785.4 741.1 L787.6 744.7 L789.8 748.1 L791.9 751.8 L794.1 754.1 L796.1 755.7 L798.3 761.2 L799.8 766.1 L802.5 769.4 L804.9 771.7 L808.9 774.0 L811.1 779.8 L813.7 781.7 L816.3 783.4 L818.2 786.5 L820.1 790.3 L822.0 795.0 L823.9 800.3 L824.8 803.3 L825.8 806.9 L826.7 811.4 L827.5 815.6 L830.0 816.8 L832.6 819.2 L835.7 819.2 L838.7 819.9 L842.0 822.9 L845.0 826.3 L848.1 829.8 L851.4 834.2 L853.7 837.4 L856.1 841.0 L859.2 843.2 L862.5 844.5 L865.2 849.2 L867.6 854.2 L870.2 856.3 L872.5 860.1 L874.8 862.0 L877.5 866.2 L880.2 870.3 L882.5 874.3 L885.0 877.1 L887.6 880.3 L889.9 883.9 L893.1 887.4 L896.3 890.0 L899.2 891.7 L902.5 893.8 L904.0 900.5 L906.7 902.5 L909.0 905.1 L911.7 907.3 L914.0 909.5 L916.4 910.6 L919.2 912.9 L921.5 915.4 L924.1 919.4 L926.6 923.1 L929.1 923.2 L931.4 923.9 L934.0 925.0 L937.0 929.0 L940.3 933.9 L943.1 934.3 L946.1 933.2 L949.0 934.1 L951.4 934.8 L953.8 935.2 L956.6 936.4 L959.1 937.6 L961.5 939.6 L963.9 941.4 L966.5 943.5 L969.0 944.5 L971.4 945.8 L974.1 947.0 L976.4 948.4 L979.0 948.3 L981.5 947.5 L983.8 945.7 L986.6 946.0 L989.1 946.1 L991.4 946.0 L993.9 946.7 L996.5 946.1 L999.0 948.2 L1001.3 950.9 L1004.0 953.1 L1006.5 953.1 L1008.9 952.8 L1011.7 954.2 L1013.9 955.9 L1016.6 956.8 L1019.0 959.3 L1021.5 960.9 L1023.9 961.7 L1026.6 963.1 L1028.9 965.5 L1031.5 965.4 L1033.9 964.6 L1036.4 964.6 L1039.2 964.7 L1041.5 965.9 L1044.0 967.6 L1046.5 968.6 L1048.9 970.9 L1051.4 969.4 L1053.9 968.6 L1056.4 967.4 L1059.1 968.0 L1061.4 968.6 L1063.9 968.3 L1066.6 968.3 L1069.4 967.7 L1072.4 965.5 L1075.2 964.8 L1078.3 966.3 L1081.4 967.5 L1084.0 966.7 L1086.5 966.6 L1089.1 966.7 L1092.9 971.4 L1095.6 969.3 L1098.6 967.6 L1101.6 965.8 L1104.0 964.4 L1106.4 962.8 L1109.0 960.8 L1111.5 958.5 L1114.0 957.0 L1116.4 956.7 L1118.9 955.2 L1121.4 953.8 L1124.0 953.3 L1126.4 952.4 L1128.9 952.1 L1131.4 952.3 L1134.3 948.7 L1137.5 946.0 L1140.4 942.9 L1142.6 943.1 L1145.1 944.4 L1147.8 944.8 L1150.8 944.6 L1154.1 943.4 L1156.6 940.7 L1159.0 937.5 L1161.4 935.5 L1164.1 932.8 L1166.3 929.4 L1168.9 927.1 L1171.4 924.2 L1173.8 921.0 L1176.5 917.7 L1179.1 915.1 L1181.6 913.5 L1184.0 912.7 L1186.4 910.7 L1189.1 910.3 L1191.4 907.0 L1194.1 905.1 L1196.3 902.2 L1198.2 899.1 L1200.1 895.5 L1202.2 890.8 L1204.1 887.4 L1206.6 886.2 L1208.9 883.7 L1211.7 882.4 L1214.2 879.0 L1216.6 875.4 L1219.0 874.8 L1221.3 874.9 L1224.0 874.5 L1226.7 872.3 L1229.1 870.5 L1231.6 869.6 L1233.9 867.6 L1236.1 866.4 L1237.8 861.6 L1239.5 857.3 L1242.2 852.8 L1244.6 848.3 L1247.3 846.5 L1249.6 843.4 L1252.2 841.2 L1254.9 839.4 L1257.1 838.4 L1259.6 836.3 L1262.1 835.4 L1264.7 834.1 L1267.1 831.1 L1269.7 828.0 L1272.3 828.4 L1274.6 827.7 L1276.5 830.9 L1278.3 834.2 L1281.0 834.7 L1283.8 834.0 L1286.5 834.5 L1289.2 834.1 L1291.8 833.9 L1294.9 834.8 L1297.1 836.9 L1299.9 838.8 L1302.1 836.9 L1304.7 834.6 L1307.0 833.8 L1309.4 833.9 L1310.1 829.9 L1311.0 824.7 L1313.4 821.4 L1315.8 819.1 L1319.2 817.9 L1322.1 817.7 L1326.1 815.0 L1329.6 820.3 L1332.3 822.5 L1334.6 824.1 L1337.9 824.5 L1340.9 825.1 L1343.4 827.3 L1345.9 828.2 L1348.5 828.9 L1351.1 829.0 L1353.6 833.7 L1355.9 837.5 L1358.3 838.5 L1361.0 839.5 L1363.8 839.6 L1366.6 840.6 L1369.2 839.4 L1372.2 839.6 L1374.8 837.9 L1377.3 837.4 L1379.8 839.0 L1382.1 841.4 L1384.7 841.5 L1387.1 841.8 L1389.8 842.6 L1392.3 842.1 L1394.6 843.9 L1397.2 845.3 L1399.6 846.5 L1402.1 847.6 L1404.9 848.7 L1407.3 849.4 L1409.9 849.6 L1412.9 848.6 L1416.0 848.9 L1419.0 852.0 L1422.4 855.0 L1425.4 857.3 L1428.4 860.5 L1431.2 860.5 L1434.3 861.6 L1437.1 862.7 L1439.7 862.6 L1442.2 862.5 L1444.7 862.4 L1447.1 862.1 L1449.8 863.0 L1452.1 863.8 L1454.6 863.3 L1457.2 863.9 L1459.7 864.6 L1462.1 865.1 L1464.6 866.3 L1467.2 867.0 L1469.7 868.2 L1472.2 869.9 L1474.7 870.5 L1477.3 870.5 L1479.9 872.0 L1482.1 872.9 L1484.7 871.4 L1487.4 871.2 L1489.8 870.1 L1492.3 869.7 L1494.6 869.8 L1497.0 873.2 L1499.6 876.0 L1502.3 876.5 L1504.8 877.0 L1507.3 877.3 L1509.9 877.9 L1512.1 878.7 L1514.6 879.7 L1517.3 880.7 L1519.6 881.1 L1522.9 884.3 L1526.0 885.7 L1528.5 886.2 L1531.0 887.4 L1533.3 888.0 L1536.2 887.2 L1538.8 887.4 L1541.7 887.6 L1544.1 886.9 L1546.9 887.9 L1549.6 887.6 L1552.1 885.8 L1554.7 883.3 L1557.3 880.0 L1559.8 876.6 L1561.1 871.6 L1562.1 867.7 L1563.5 864.5 L1564.8 859.4 L1565.8 856.6 L1567.3 852.4 L1568.4 848.3 L1569.8 844.9 L1571.4 840.8 L1572.7 836.0 L1574.3 832.3 L1576.0 827.0 L1577.5 822.7 L1579.3 818.4 L1580.9 813.6 L1581.4 809.5 L1582.1 804.4 L1582.8 801.8 L1583.3 797.1 L1584.1 793.5 L1584.6 790.0 L1585.9 785.9 L1587.2 782.2 L1588.6 776.9 L1589.3 773.7 L1590.3 769.5 L1591.0 765.2 L1592.2 760.4 L1593.6 756.7 L1597.4 755.2 L1600.9 757.8 L1602.9 753.8 L1604.7 749.8 L1606.0 745.7 L1607.0 741.5 L1608.4 738.1 L1609.1 733.6 L1609.6 729.7 L1610.3 725.8 L1610.8 722.9 L1614.7 717.4 L1615.4 713.1 L1615.9 708.6 L1616.6 704.8 L1619.8 700.1 L1622.4 696.1 L1624.9 692.6 L1627.5 687.1 L1628.4 683.9 L1629.0 679.5 L1629.7 675.4 L1630.5 670.8 L1631.8 666.4 L1632.6 661.9 L1635.8 659.2 L1638.5 658.9 L1640.9 658.6 L1643.5 659.2 L1645.1 654.0 L1646.8 650.6 L1649.7 643.2 L1652.3 650.5 L1654.0 654.3 L1655.8 659.5 L1659.0 659.4 L1661.9 658.7 L1664.6 659.0 L1665.6 654.9 L1666.4 651.1 L1667.0 647.4 L1668.8 642.7 L1671.6 647.5 L1672.6 652.2 L1673.4 656.9 L1676.1 658.8 L1678.6 659.5 L1680.4 665.3 L1682.1 669.5 L1685.8 674.1 L1689.3 679.5 L1690.2 684.9 L1691.0 690.1 L1694.2 696.4 L1694.8 699.8 L1695.5 703.5 L1696.0 707.8 L1697.3 711.0 L1698.5 715.6 L1699.7 718.5 L1702.0 721.8 L1704.1 723.2 L1705.4 727.7 L1706.6 731.1 L1707.9 734.7 L1710.7 735.8 L1713.3 737.1 L1715.2 741.3 L1717.2 744.6 L1719.6 748.0 L1721.6 750.9 L1723.9 754.3 L1725.8 755.7 L1727.9 760.9 L1729.9 766.2 L1732.2 768.9 L1734.8 772.0 L1738.4 774.2 L1740.8 780.3 L1743.3 781.7 L1745.9 783.4 L1747.7 786.6 L1749.7 790.5 L1751.7 795.2 L1753.4 799.7 L1754.3 803.7 L1755.2 807.1 L1756.4 811.4 L1757.1 815.6 L1759.6 817.0 L1762.1 819.2 L1765.5 819.1 L1768.5 820.4 L1771.5 822.9 L1774.7 826.7 L1777.7 830.2 L1781.0 833.7 L1783.5 838.0 L1785.8 841.7 L1789.0 843.5 L1792.3 844.6 L1794.8 850.0 L1797.1 853.2 L1799.6 857.2 L1802.0 860.1 L1804.6 862.8 L1807.1 865.9 L1809.8 869.5 L1812.1 874.3 L1814.8 877.5 L1817.4 879.9 L1819.6 884.1 L1822.9 886.3 L1826.0 889.7 L1829.0 891.4 L1832.0 894.3 L1833.6 900.5 L1836.1 902.5 L1838.6 904.9 L1841.1 907.7 L1843.6 909.5 L1846.2 910.4 L1848.6 912.5 L1851.4 915.7 L1853.6 919.7 L1856.3 922.8 L1858.6 922.9 L1861.1 923.6 L1863.5 925.0 L1866.8 929.4 L1869.9 933.2 L1872.9 933.9 L1875.8 933.8 L1878.8 934.3 L1881.3 934.8 L1883.7 935.2 L1886.2 936.8 L1888.7 937.8 L1891.2 939.2 L1893.9 940.7 L1896.2 943.4 L1898.6 944.7 L1901.2 945.9 L1903.6 947.0 L1906.3 949.1 L1908.8 947.4 L1911.3 946.9 L1913.8 946.3 L1916.1 946.8 L1918.5 946.5 L1921.3 946.3 L1923.7 946.8 L1926.1 946.4 L1928.8 948.2 L1931.3 950.3 L1933.7 952.6 L1936.3 952.7 L1938.7 953.4 L1941.1 953.9 L1943.6 955.9 L1946.2 957.3 L1948.7 958.7 L1951.1 959.9 L1953.9 961.9 L1956.2 963.5 L1958.8 964.7 L1961.1 965.4 L1963.7 965.2 L1966.3 965.5 L1968.8 964.5 L1971.2 966.8 L1973.8 967.3 L1976.1 968.8 L1978.6 970.3 L1981.3 969.7 L1983.7 968.3 L1986.2 968.6 L1988.8 968.1 L1991.2 968.7 L1993.8 968.1 L1996.3 968.6 L1999.1 967.0 L2002.0 965.7 L2004.9 963.9 L2008.0 965.8 L2011.0 966.6 L2013.8 966.7 L2016.1 966.7 L2018.8 966.5 L2022.5 971.7 L2025.3 969.5 L2028.4 968.1 L2031.2 965.7 L2033.7 964.2 L2036.3 962.3 L2038.7 960.8 L2041.3 958.6 L2043.7 957.6 L2046.4 955.9 L2048.9 955.3 L2051.2 953.9 L2053.6 952.8 L2056.3 952.7 L2058.7 952.4 L2061.3 952.3 L2063.9 948.9 L2067.0 945.6 L2070.1 942.4 L2072.4 943.8 L2074.9 944.2 L2077.5 945.4 L2080.6 944.7 L2083.7 943.2 L2086.3 940.9 L2088.8 938.2 L2091.1 934.7 L2093.5 932.9 L2096.1 929.5 L2098.8 927.6 L2101.0 924.6 L2103.8 921.2 L2106.0 918.4 L2108.7 915.1 L2111.4 914.1 L2113.8 912.1 L2116.1 911.3 L2118.5 910.6 L2121.1 907.2 L2123.6 904.7 L2126.3 902.6 L2128.1 898.7 L2129.8 894.8 L2132.0 891.6 L2133.8 887.2 L2136.1 885.3 L2138.7 884.0 L2141.2 882.5 L2143.7 878.6 L2146.3 874.6 L2148.9 874.9 L2151.0 874.4 L2153.7 874.4 L2156.2 872.5 L2158.6 871.4 L2161.1 869.5 L2163.8 867.6 L2165.6 866.8 L2167.5 862.3 L2169.2 857.4 L2172.0 852.6 L2174.5 848.2 L2176.9 845.9 L2179.6 843.8 L2182.0 841.2 L2184.5 839.8 L2186.8 837.6 L2189.5 835.8 L2192.1 834.6 L2194.3 833.3 L2197.0 831.4 L2199.4 828.2 L2201.8 828.5 L2204.5 827.6 L2206.1 831.5 L2208.0 834.9 L2208.4 834.2" stroke="#ff00ff" stroke-width="5.8" fill="none" stroke-linejoin="round"/>
<text x="306.7" y="87.1" font-size="57.2">Virtaama, 1408050 Volanjoki</text>
<text x="241.8" y="1058.5" font-size="57.2" text-anchor="end">0.0</text>
<text x="241.8" y="980.8" font-size="57.2" text-anchor="end">0.5</text>
<text x="241.8" y="903.0" font-size="57.2" text-anchor="end">1.0</text>
<text x="241.8" y="825.3" font-size="57.2" text-anchor="end">1.5</text>
<text x="241.8" y="747.6" font-size="57.2" text-anchor="end">2.0</text>
<text x="241.8" y="669.8" font-size="57.2" text-anchor="end">2.5</text>
<text x="241.8" y="592.1" font-size="57.2" text-anchor="end">3.0</text>
<text x="241.8" y="514.4" font-size="57.2" text-anchor="end">3.5</text>
<text x="241.8" y="436.6" font-size="57.2" text-anchor="end">4.0</text>
<text x="241.8" y="358.9" font-size="57.2" text-anchor="end">4.5</text>
<text x="241.8" y="281.2" font-size="57.2" text-anchor="end">5.0</text>
<text x="241.8" y="203.4" font-size="57.2" text-anchor="end">5.5</text>
<text x="241.8" y="125.7" font-size="57.2" text-anchor="end">6.0</text>
<text transform="translate(99.1 913) rotate(-90)" font-size="49.4" xml:space="preserve">Virtaama / Discharge</text>
<text transform="translate(99.1 396.5) rotate(-90)" font-size="49.4">m³/s</text>
<text x="316.0" y="1120.6" font-size="36.4">XII</text>
<text x="407.0" y="1120.6" font-size="36.4">I</text>
<text x="475.5" y="1120.6" font-size="36.4">II</text>
<text x="548.0" y="1120.6" font-size="36.4">III</text>
<text x="626.0" y="1120.6" font-size="36.4">IV</text>
<text x="713.2" y="1120.6" font-size="36.4">V</text>
<text x="782.0" y="1120.6" font-size="36.4">VI</text>
<text x="858.5" y="1120.6" font-size="36.4">VII</text>
<text x="926.5" y="1120.6" font-size="36.4">VIII</text>
<text x="1015.2" y="1120.6" font-size="36.4">IX</text>
<text x="1100.5" y="1120.6" font-size="36.4">X</text>
<text x="1170.5" y="1120.6" font-size="36.4">XI</text>
<text x="1247.0" y="1120.6" font-size="36.4">XII</text>
<text x="1336.5" y="1120.6" font-size="36.4">I</text>
<text x="1406.2" y="1120.6" font-size="36.4">II</text>
<text x="1477.5" y="1120.6" font-size="36.4">III</text>
<text x="1556.5" y="1120.6" font-size="36.4">IV</text>
<text x="1641.5" y="1120.6" font-size="36.4">V</text>
<text x="1711.5" y="1120.6" font-size="36.4">VI</text>
<text x="1787.5" y="1120.6" font-size="36.4">VII</text>
<text x="1856.5" y="1120.6" font-size="36.4">VIII</text>
<text x="1945.2" y="1120.6" font-size="36.4">IX</text>
<text x="2031.0" y="1120.6" font-size="36.4">X</text>
<text x="2099.8" y="1120.6" font-size="36.4">XI</text>
<text x="2177.0" y="1120.6" font-size="36.4">XII</text>
<text x="386" y="1165" font-size="35.7">2025</text>
<text x="1316" y="1165" font-size="35.7">2026</text>
<text x="2223.3" y="1140.2" font-size="35.7">18-Dec-2025 16:51 WSFS-O</text>
<text x="2223.0" y="83.8" font-size="35.5" xml:space="preserve">Ennusteen alku</text>
<path d="M2223.5 101H2541.0" stroke="#00ffff" stroke-width="9.6" stroke-dasharray="14.6 13.8" fill="none"/>
<text x="2223.0" y="157.6" font-size="35.5" xml:space="preserve">Keskiennuste</text>
<path d="M2223.5 175H2541.0" stroke="#0000ff" stroke-width="10" fill="none"/>
<text x="2223.0" y="231.8" font-size="35.5" xml:space="preserve">25-75% Vaihteluväli</text>
<path d="M2223.5 249H2541.0" stroke="#00ff00" stroke-width="13" fill="none"/>
<text x="2223.0" y="305.8" font-size="35.5" xml:space="preserve">5-95% Vaihteluväli</text>
<path d="M2223.5 322.5H2541.0" stroke="#ff0000" stroke-width="13" fill="none"/>
<text x="2223.0" y="379.8" font-size="35.5" xml:space="preserve">Ennusteen vaihteluväli</text>
<path d="M2223.5 396.3H2541.0" stroke="#ffff00" stroke-width="13" fill="none"/>
<text x="2223.0" y="453.6" font-size="35.5" xml:space="preserve">Simuloitu historia</text>
<path d="M2223.5 470.2H2541.0" stroke="#0000ff" stroke-width="12" fill="none"/>
<text x="2223.0" y="528.0" font-size="35.5" xml:space="preserve">Vaihteluväli 1980-2019</text>
<text x="2223.0" y="569.9" font-size="35.5" xml:space="preserve">Havaintoasema 1408050</text>
<path d="M2223.5 586.7H2541.0" stroke="#d3d3d3" stroke-width="13" fill="none"/>
<text x="2223.0" y="644.5" font-size="35.5" xml:space="preserve">Havaintojen mediaani</text>
<path d="M2223.5 660.5H2541.0" stroke="#ff00ff" stroke-width="5" fill="none"/>
<text x="2223.0" y="718.3" font-size="35.5" xml:space="preserve">MHQ  3.2 m³/s NHQ  1.8</text>
<text x="2223.0" y="760.2" font-size="35.5" xml:space="preserve">15.05.1988 HQ  4.9</text>
<path d="M2223.5 777.5H2541.0" stroke="#ff0000" stroke-width="3.1" fill="none"/>
<text x="2223.0" y="834.8" font-size="35.5" xml:space="preserve">MNQ 0.47 m³/s HNQ  1.2</text>
<text x="2223.0" y="876.7" font-size="35.5" xml:space="preserve">28.01.2003 NQ 0.02</text>
<path d="M2223.5 894H2541.0" stroke="#ff0000" stroke-width="3.8" stroke-dasharray="7.9 6.3" fill="none"/>
</svg></body></html>
